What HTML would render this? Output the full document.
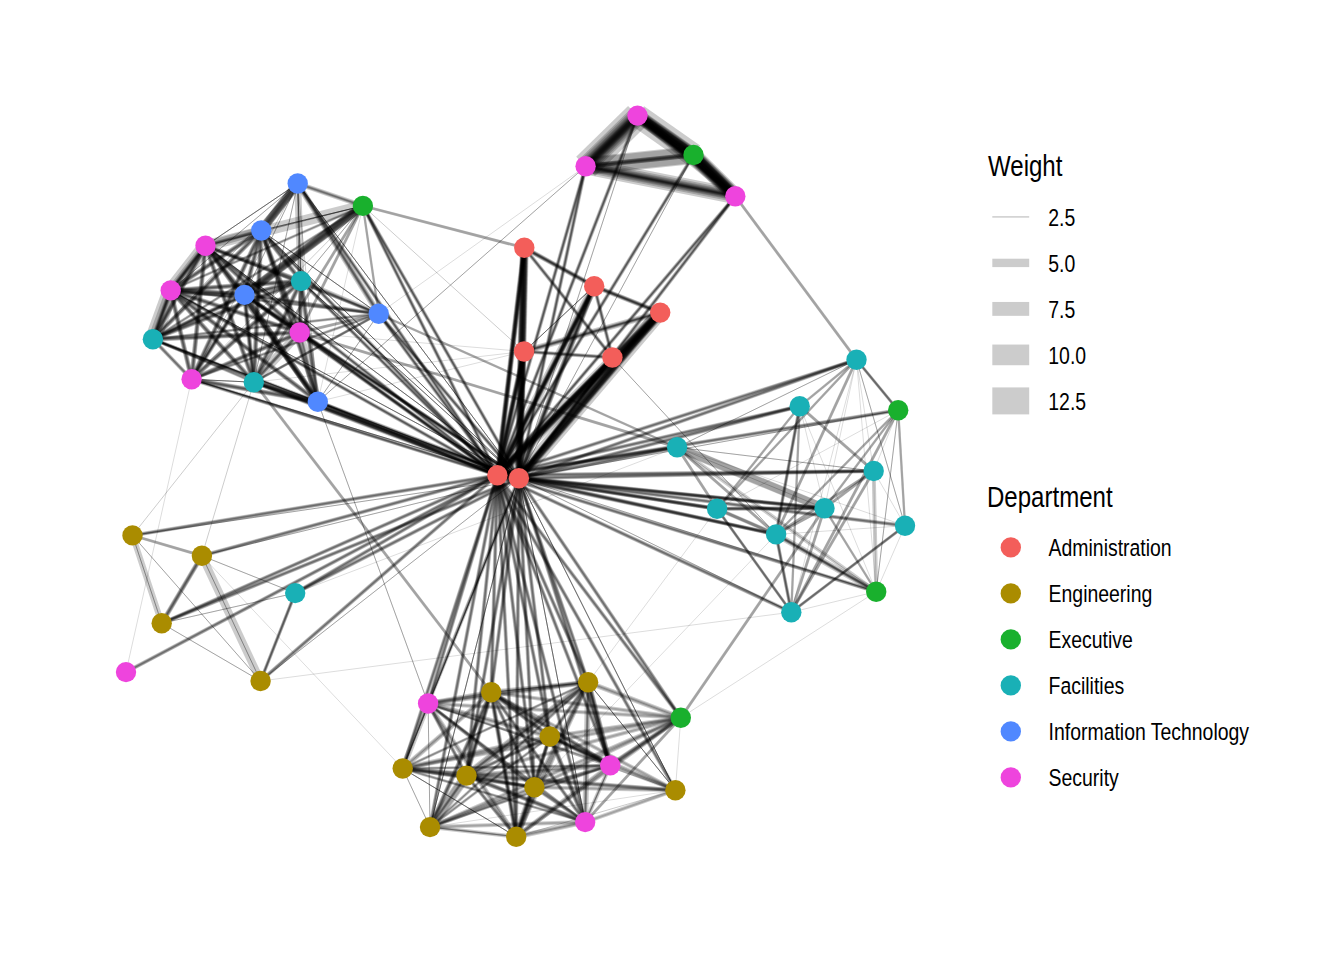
<!DOCTYPE html>
<html><head><meta charset="utf-8"><title>Network</title>
<style>
html,body{margin:0;padding:0;background:#fff;}
body{width:1344px;height:960px;overflow:hidden;font-family:"Liberation Sans",sans-serif;}
svg{display:block}
text{font-family:"Liberation Sans",sans-serif;fill:#000}
</style></head><body>
<svg width="1344" height="960" viewBox="0 0 1344 960">
<rect width="1344" height="960" fill="#fff"/>
<g stroke="#000" stroke-opacity="0.2" stroke-linecap="butt" fill="none">
<line x1="297.7" y1="183.5" x2="362.9" y2="205.9" stroke-width="1"/>
<line x1="297.7" y1="183.5" x2="362.9" y2="205.9" stroke-width="2"/>
<line x1="297.7" y1="183.5" x2="362.9" y2="205.9" stroke-width="3"/>
<line x1="297.7" y1="183.5" x2="362.9" y2="205.9" stroke-width="5"/>
<line x1="297.7" y1="183.5" x2="261.3" y2="230.5" stroke-width="2"/>
<line x1="297.7" y1="183.5" x2="261.3" y2="230.5" stroke-width="4"/>
<line x1="297.7" y1="183.5" x2="261.3" y2="230.5" stroke-width="6"/>
<line x1="297.7" y1="183.5" x2="261.3" y2="230.5" stroke-width="7"/>
<line x1="297.7" y1="183.5" x2="261.3" y2="230.5" stroke-width="8"/>
<line x1="297.7" y1="183.5" x2="261.3" y2="230.5" stroke-width="8"/>
<line x1="297.7" y1="183.5" x2="261.3" y2="230.5" stroke-width="9"/>
<line x1="297.7" y1="183.5" x2="205.5" y2="245.8" stroke-width="1"/>
<line x1="297.7" y1="183.5" x2="205.5" y2="245.8" stroke-width="1"/>
<line x1="297.7" y1="183.5" x2="205.5" y2="245.8" stroke-width="1"/>
<line x1="297.7" y1="183.5" x2="205.5" y2="245.8" stroke-width="1"/>
<line x1="297.7" y1="183.5" x2="170.7" y2="290.4" stroke-width="1"/>
<line x1="297.7" y1="183.5" x2="170.7" y2="290.4" stroke-width="1"/>
<line x1="297.7" y1="183.5" x2="244.5" y2="294.9" stroke-width="1"/>
<line x1="297.7" y1="183.5" x2="244.5" y2="294.9" stroke-width="1"/>
<line x1="297.7" y1="183.5" x2="301" y2="281.1" stroke-width="7"/>
<line x1="297.7" y1="183.5" x2="301" y2="281.1" stroke-width="1"/>
<line x1="297.7" y1="183.5" x2="301" y2="281.1" stroke-width="1"/>
<line x1="297.7" y1="183.5" x2="301" y2="281.1" stroke-width="1"/>
<line x1="297.7" y1="183.5" x2="301" y2="281.1" stroke-width="1"/>
<line x1="297.7" y1="183.5" x2="378.7" y2="313.8" stroke-width="1"/>
<line x1="297.7" y1="183.5" x2="378.7" y2="313.8" stroke-width="2"/>
<line x1="297.7" y1="183.5" x2="378.7" y2="313.8" stroke-width="3"/>
<line x1="297.7" y1="183.5" x2="378.7" y2="313.8" stroke-width="4"/>
<line x1="297.7" y1="183.5" x2="378.7" y2="313.8" stroke-width="6"/>
<line x1="297.7" y1="183.5" x2="299.7" y2="332.5" stroke-width="1"/>
<line x1="297.7" y1="183.5" x2="299.7" y2="332.5" stroke-width="1"/>
<line x1="297.7" y1="183.5" x2="152.9" y2="339.2" stroke-width="1"/>
<line x1="297.7" y1="183.5" x2="191.6" y2="379.3" stroke-width="1"/>
<line x1="297.7" y1="183.5" x2="253.8" y2="382.2" stroke-width="1"/>
<line x1="297.7" y1="183.5" x2="253.8" y2="382.2" stroke-width="1"/>
<line x1="297.7" y1="183.5" x2="317.8" y2="401.7" stroke-width="1"/>
<line x1="362.9" y1="205.9" x2="261.3" y2="230.5" stroke-width="1"/>
<line x1="362.9" y1="205.9" x2="261.3" y2="230.5" stroke-width="1"/>
<line x1="362.9" y1="205.9" x2="261.3" y2="230.5" stroke-width="1"/>
<line x1="362.9" y1="205.9" x2="261.3" y2="230.5" stroke-width="1"/>
<line x1="362.9" y1="205.9" x2="205.5" y2="245.8" stroke-width="11"/>
<line x1="362.9" y1="205.9" x2="205.5" y2="245.8" stroke-width="1"/>
<line x1="362.9" y1="205.9" x2="205.5" y2="245.8" stroke-width="1"/>
<line x1="362.9" y1="205.9" x2="170.7" y2="290.4" stroke-width="1"/>
<line x1="362.9" y1="205.9" x2="170.7" y2="290.4" stroke-width="2"/>
<line x1="362.9" y1="205.9" x2="170.7" y2="290.4" stroke-width="3"/>
<line x1="362.9" y1="205.9" x2="244.5" y2="294.9" stroke-width="2"/>
<line x1="362.9" y1="205.9" x2="244.5" y2="294.9" stroke-width="4"/>
<line x1="362.9" y1="205.9" x2="244.5" y2="294.9" stroke-width="6"/>
<line x1="362.9" y1="205.9" x2="244.5" y2="294.9" stroke-width="7"/>
<line x1="362.9" y1="205.9" x2="244.5" y2="294.9" stroke-width="8"/>
<line x1="362.9" y1="205.9" x2="244.5" y2="294.9" stroke-width="8"/>
<line x1="362.9" y1="205.9" x2="244.5" y2="294.9" stroke-width="9"/>
<line x1="362.9" y1="205.9" x2="301" y2="281.1" stroke-width="1"/>
<line x1="362.9" y1="205.9" x2="301" y2="281.1" stroke-width="1"/>
<line x1="362.9" y1="205.9" x2="378.7" y2="313.8" stroke-width="2.5"/>
<line x1="362.9" y1="205.9" x2="378.7" y2="313.8" stroke-width="2"/>
<line x1="362.9" y1="205.9" x2="299.7" y2="332.5" stroke-width="3"/>
<line x1="362.9" y1="205.9" x2="299.7" y2="332.5" stroke-width="2.5"/>
<line x1="362.9" y1="205.9" x2="152.9" y2="339.2" stroke-width="1"/>
<line x1="362.9" y1="205.9" x2="152.9" y2="339.2" stroke-width="2"/>
<line x1="362.9" y1="205.9" x2="152.9" y2="339.2" stroke-width="3"/>
<line x1="362.9" y1="205.9" x2="191.6" y2="379.3" stroke-width="1"/>
<line x1="362.9" y1="205.9" x2="253.8" y2="382.2" stroke-width="3"/>
<line x1="362.9" y1="205.9" x2="253.8" y2="382.2" stroke-width="2.5"/>
<line x1="362.9" y1="205.9" x2="317.8" y2="401.7" stroke-width="0.7"/>
<line x1="261.3" y1="230.5" x2="205.5" y2="245.8" stroke-width="1"/>
<line x1="261.3" y1="230.5" x2="205.5" y2="245.8" stroke-width="2"/>
<line x1="261.3" y1="230.5" x2="205.5" y2="245.8" stroke-width="3"/>
<line x1="261.3" y1="230.5" x2="205.5" y2="245.8" stroke-width="4"/>
<line x1="261.3" y1="230.5" x2="205.5" y2="245.8" stroke-width="8"/>
<line x1="261.3" y1="230.5" x2="170.7" y2="290.4" stroke-width="1"/>
<line x1="261.3" y1="230.5" x2="170.7" y2="290.4" stroke-width="2"/>
<line x1="261.3" y1="230.5" x2="170.7" y2="290.4" stroke-width="3"/>
<line x1="261.3" y1="230.5" x2="170.7" y2="290.4" stroke-width="4"/>
<line x1="261.3" y1="230.5" x2="170.7" y2="290.4" stroke-width="5"/>
<line x1="261.3" y1="230.5" x2="244.5" y2="294.9" stroke-width="1"/>
<line x1="261.3" y1="230.5" x2="244.5" y2="294.9" stroke-width="2"/>
<line x1="261.3" y1="230.5" x2="244.5" y2="294.9" stroke-width="3"/>
<line x1="261.3" y1="230.5" x2="244.5" y2="294.9" stroke-width="4"/>
<line x1="261.3" y1="230.5" x2="244.5" y2="294.9" stroke-width="5"/>
<line x1="261.3" y1="230.5" x2="301" y2="281.1" stroke-width="1"/>
<line x1="261.3" y1="230.5" x2="301" y2="281.1" stroke-width="2"/>
<line x1="261.3" y1="230.5" x2="301" y2="281.1" stroke-width="3"/>
<line x1="261.3" y1="230.5" x2="301" y2="281.1" stroke-width="4"/>
<line x1="261.3" y1="230.5" x2="301" y2="281.1" stroke-width="5"/>
<line x1="261.3" y1="230.5" x2="378.7" y2="313.8" stroke-width="1"/>
<line x1="261.3" y1="230.5" x2="378.7" y2="313.8" stroke-width="1"/>
<line x1="261.3" y1="230.5" x2="378.7" y2="313.8" stroke-width="1"/>
<line x1="261.3" y1="230.5" x2="378.7" y2="313.8" stroke-width="1"/>
<line x1="261.3" y1="230.5" x2="299.7" y2="332.5" stroke-width="1"/>
<line x1="261.3" y1="230.5" x2="299.7" y2="332.5" stroke-width="2"/>
<line x1="261.3" y1="230.5" x2="299.7" y2="332.5" stroke-width="3"/>
<line x1="261.3" y1="230.5" x2="299.7" y2="332.5" stroke-width="4"/>
<line x1="261.3" y1="230.5" x2="299.7" y2="332.5" stroke-width="5"/>
<line x1="261.3" y1="230.5" x2="152.9" y2="339.2" stroke-width="1"/>
<line x1="261.3" y1="230.5" x2="152.9" y2="339.2" stroke-width="2"/>
<line x1="261.3" y1="230.5" x2="152.9" y2="339.2" stroke-width="3"/>
<line x1="261.3" y1="230.5" x2="152.9" y2="339.2" stroke-width="4"/>
<line x1="261.3" y1="230.5" x2="152.9" y2="339.2" stroke-width="5"/>
<line x1="261.3" y1="230.5" x2="191.6" y2="379.3" stroke-width="1"/>
<line x1="261.3" y1="230.5" x2="191.6" y2="379.3" stroke-width="2"/>
<line x1="261.3" y1="230.5" x2="191.6" y2="379.3" stroke-width="3"/>
<line x1="261.3" y1="230.5" x2="191.6" y2="379.3" stroke-width="4"/>
<line x1="261.3" y1="230.5" x2="191.6" y2="379.3" stroke-width="5"/>
<line x1="261.3" y1="230.5" x2="253.8" y2="382.2" stroke-width="1"/>
<line x1="261.3" y1="230.5" x2="253.8" y2="382.2" stroke-width="2"/>
<line x1="261.3" y1="230.5" x2="253.8" y2="382.2" stroke-width="3"/>
<line x1="261.3" y1="230.5" x2="253.8" y2="382.2" stroke-width="4"/>
<line x1="261.3" y1="230.5" x2="253.8" y2="382.2" stroke-width="5"/>
<line x1="261.3" y1="230.5" x2="317.8" y2="401.7" stroke-width="1"/>
<line x1="261.3" y1="230.5" x2="317.8" y2="401.7" stroke-width="2"/>
<line x1="261.3" y1="230.5" x2="317.8" y2="401.7" stroke-width="3"/>
<line x1="261.3" y1="230.5" x2="317.8" y2="401.7" stroke-width="4"/>
<line x1="261.3" y1="230.5" x2="317.8" y2="401.7" stroke-width="5"/>
<line x1="205.5" y1="245.8" x2="170.7" y2="290.4" stroke-width="1"/>
<line x1="205.5" y1="245.8" x2="170.7" y2="290.4" stroke-width="1.5"/>
<line x1="205.5" y1="245.8" x2="170.7" y2="290.4" stroke-width="2"/>
<line x1="205.5" y1="245.8" x2="170.7" y2="290.4" stroke-width="2.5"/>
<line x1="205.5" y1="245.8" x2="170.7" y2="290.4" stroke-width="3"/>
<line x1="205.5" y1="245.8" x2="170.7" y2="290.4" stroke-width="4"/>
<line x1="205.5" y1="245.8" x2="170.7" y2="290.4" stroke-width="5"/>
<line x1="205.5" y1="245.8" x2="170.7" y2="290.4" stroke-width="14"/>
<line x1="205.5" y1="245.8" x2="170.7" y2="290.4" stroke-width="8"/>
<line x1="205.5" y1="245.8" x2="244.5" y2="294.9" stroke-width="1"/>
<line x1="205.5" y1="245.8" x2="244.5" y2="294.9" stroke-width="2"/>
<line x1="205.5" y1="245.8" x2="244.5" y2="294.9" stroke-width="3"/>
<line x1="205.5" y1="245.8" x2="244.5" y2="294.9" stroke-width="4"/>
<line x1="205.5" y1="245.8" x2="244.5" y2="294.9" stroke-width="5"/>
<line x1="205.5" y1="245.8" x2="301" y2="281.1" stroke-width="1"/>
<line x1="205.5" y1="245.8" x2="301" y2="281.1" stroke-width="2"/>
<line x1="205.5" y1="245.8" x2="301" y2="281.1" stroke-width="3"/>
<line x1="205.5" y1="245.8" x2="301" y2="281.1" stroke-width="4"/>
<line x1="205.5" y1="245.8" x2="301" y2="281.1" stroke-width="5"/>
<line x1="205.5" y1="245.8" x2="378.7" y2="313.8" stroke-width="1"/>
<line x1="205.5" y1="245.8" x2="378.7" y2="313.8" stroke-width="2"/>
<line x1="205.5" y1="245.8" x2="378.7" y2="313.8" stroke-width="3"/>
<line x1="205.5" y1="245.8" x2="299.7" y2="332.5" stroke-width="1"/>
<line x1="205.5" y1="245.8" x2="299.7" y2="332.5" stroke-width="2"/>
<line x1="205.5" y1="245.8" x2="299.7" y2="332.5" stroke-width="3"/>
<line x1="205.5" y1="245.8" x2="299.7" y2="332.5" stroke-width="4"/>
<line x1="205.5" y1="245.8" x2="299.7" y2="332.5" stroke-width="5"/>
<line x1="205.5" y1="245.8" x2="152.9" y2="339.2" stroke-width="1"/>
<line x1="205.5" y1="245.8" x2="152.9" y2="339.2" stroke-width="2"/>
<line x1="205.5" y1="245.8" x2="152.9" y2="339.2" stroke-width="3"/>
<line x1="205.5" y1="245.8" x2="152.9" y2="339.2" stroke-width="4"/>
<line x1="205.5" y1="245.8" x2="152.9" y2="339.2" stroke-width="5"/>
<line x1="205.5" y1="245.8" x2="191.6" y2="379.3" stroke-width="1"/>
<line x1="205.5" y1="245.8" x2="191.6" y2="379.3" stroke-width="2"/>
<line x1="205.5" y1="245.8" x2="191.6" y2="379.3" stroke-width="3"/>
<line x1="205.5" y1="245.8" x2="191.6" y2="379.3" stroke-width="4"/>
<line x1="205.5" y1="245.8" x2="191.6" y2="379.3" stroke-width="5"/>
<line x1="205.5" y1="245.8" x2="253.8" y2="382.2" stroke-width="1"/>
<line x1="205.5" y1="245.8" x2="253.8" y2="382.2" stroke-width="2"/>
<line x1="205.5" y1="245.8" x2="253.8" y2="382.2" stroke-width="3"/>
<line x1="205.5" y1="245.8" x2="253.8" y2="382.2" stroke-width="4"/>
<line x1="205.5" y1="245.8" x2="253.8" y2="382.2" stroke-width="5"/>
<line x1="205.5" y1="245.8" x2="317.8" y2="401.7" stroke-width="1"/>
<line x1="205.5" y1="245.8" x2="317.8" y2="401.7" stroke-width="2"/>
<line x1="205.5" y1="245.8" x2="317.8" y2="401.7" stroke-width="3"/>
<line x1="205.5" y1="245.8" x2="317.8" y2="401.7" stroke-width="4"/>
<line x1="205.5" y1="245.8" x2="317.8" y2="401.7" stroke-width="5"/>
<line x1="170.7" y1="290.4" x2="244.5" y2="294.9" stroke-width="1"/>
<line x1="170.7" y1="290.4" x2="244.5" y2="294.9" stroke-width="2"/>
<line x1="170.7" y1="290.4" x2="244.5" y2="294.9" stroke-width="3"/>
<line x1="170.7" y1="290.4" x2="244.5" y2="294.9" stroke-width="4"/>
<line x1="170.7" y1="290.4" x2="244.5" y2="294.9" stroke-width="5"/>
<line x1="170.7" y1="290.4" x2="244.5" y2="294.9" stroke-width="6"/>
<line x1="170.7" y1="290.4" x2="244.5" y2="294.9" stroke-width="6"/>
<line x1="170.7" y1="290.4" x2="301" y2="281.1" stroke-width="1"/>
<line x1="170.7" y1="290.4" x2="301" y2="281.1" stroke-width="2"/>
<line x1="170.7" y1="290.4" x2="301" y2="281.1" stroke-width="3"/>
<line x1="170.7" y1="290.4" x2="301" y2="281.1" stroke-width="4"/>
<line x1="170.7" y1="290.4" x2="301" y2="281.1" stroke-width="5"/>
<line x1="170.7" y1="290.4" x2="378.7" y2="313.8" stroke-width="1"/>
<line x1="170.7" y1="290.4" x2="378.7" y2="313.8" stroke-width="2"/>
<line x1="170.7" y1="290.4" x2="378.7" y2="313.8" stroke-width="3"/>
<line x1="170.7" y1="290.4" x2="299.7" y2="332.5" stroke-width="1"/>
<line x1="170.7" y1="290.4" x2="299.7" y2="332.5" stroke-width="2"/>
<line x1="170.7" y1="290.4" x2="299.7" y2="332.5" stroke-width="3"/>
<line x1="170.7" y1="290.4" x2="299.7" y2="332.5" stroke-width="4"/>
<line x1="170.7" y1="290.4" x2="299.7" y2="332.5" stroke-width="5"/>
<line x1="170.7" y1="290.4" x2="152.9" y2="339.2" stroke-width="1"/>
<line x1="170.7" y1="290.4" x2="152.9" y2="339.2" stroke-width="1.5"/>
<line x1="170.7" y1="290.4" x2="152.9" y2="339.2" stroke-width="2"/>
<line x1="170.7" y1="290.4" x2="152.9" y2="339.2" stroke-width="2.5"/>
<line x1="170.7" y1="290.4" x2="152.9" y2="339.2" stroke-width="3"/>
<line x1="170.7" y1="290.4" x2="152.9" y2="339.2" stroke-width="4"/>
<line x1="170.7" y1="290.4" x2="152.9" y2="339.2" stroke-width="5"/>
<line x1="170.7" y1="290.4" x2="152.9" y2="339.2" stroke-width="16"/>
<line x1="170.7" y1="290.4" x2="152.9" y2="339.2" stroke-width="10"/>
<line x1="170.7" y1="290.4" x2="191.6" y2="379.3" stroke-width="1"/>
<line x1="170.7" y1="290.4" x2="191.6" y2="379.3" stroke-width="2"/>
<line x1="170.7" y1="290.4" x2="191.6" y2="379.3" stroke-width="3"/>
<line x1="170.7" y1="290.4" x2="191.6" y2="379.3" stroke-width="4"/>
<line x1="170.7" y1="290.4" x2="191.6" y2="379.3" stroke-width="5"/>
<line x1="170.7" y1="290.4" x2="253.8" y2="382.2" stroke-width="1"/>
<line x1="170.7" y1="290.4" x2="253.8" y2="382.2" stroke-width="2"/>
<line x1="170.7" y1="290.4" x2="253.8" y2="382.2" stroke-width="3"/>
<line x1="170.7" y1="290.4" x2="253.8" y2="382.2" stroke-width="4"/>
<line x1="170.7" y1="290.4" x2="253.8" y2="382.2" stroke-width="5"/>
<line x1="170.7" y1="290.4" x2="317.8" y2="401.7" stroke-width="1"/>
<line x1="170.7" y1="290.4" x2="317.8" y2="401.7" stroke-width="2"/>
<line x1="170.7" y1="290.4" x2="317.8" y2="401.7" stroke-width="3"/>
<line x1="170.7" y1="290.4" x2="317.8" y2="401.7" stroke-width="4"/>
<line x1="170.7" y1="290.4" x2="317.8" y2="401.7" stroke-width="5"/>
<line x1="244.5" y1="294.9" x2="301" y2="281.1" stroke-width="1"/>
<line x1="244.5" y1="294.9" x2="301" y2="281.1" stroke-width="2"/>
<line x1="244.5" y1="294.9" x2="301" y2="281.1" stroke-width="3"/>
<line x1="244.5" y1="294.9" x2="301" y2="281.1" stroke-width="4"/>
<line x1="244.5" y1="294.9" x2="301" y2="281.1" stroke-width="5"/>
<line x1="244.5" y1="294.9" x2="378.7" y2="313.8" stroke-width="1"/>
<line x1="244.5" y1="294.9" x2="378.7" y2="313.8" stroke-width="2"/>
<line x1="244.5" y1="294.9" x2="378.7" y2="313.8" stroke-width="3"/>
<line x1="244.5" y1="294.9" x2="378.7" y2="313.8" stroke-width="4"/>
<line x1="244.5" y1="294.9" x2="299.7" y2="332.5" stroke-width="1"/>
<line x1="244.5" y1="294.9" x2="299.7" y2="332.5" stroke-width="2"/>
<line x1="244.5" y1="294.9" x2="299.7" y2="332.5" stroke-width="3"/>
<line x1="244.5" y1="294.9" x2="299.7" y2="332.5" stroke-width="4"/>
<line x1="244.5" y1="294.9" x2="299.7" y2="332.5" stroke-width="5"/>
<line x1="244.5" y1="294.9" x2="152.9" y2="339.2" stroke-width="1"/>
<line x1="244.5" y1="294.9" x2="152.9" y2="339.2" stroke-width="1.5"/>
<line x1="244.5" y1="294.9" x2="152.9" y2="339.2" stroke-width="2"/>
<line x1="244.5" y1="294.9" x2="152.9" y2="339.2" stroke-width="2.5"/>
<line x1="244.5" y1="294.9" x2="152.9" y2="339.2" stroke-width="3"/>
<line x1="244.5" y1="294.9" x2="152.9" y2="339.2" stroke-width="4"/>
<line x1="244.5" y1="294.9" x2="152.9" y2="339.2" stroke-width="5"/>
<line x1="244.5" y1="294.9" x2="191.6" y2="379.3" stroke-width="1"/>
<line x1="244.5" y1="294.9" x2="191.6" y2="379.3" stroke-width="1.5"/>
<line x1="244.5" y1="294.9" x2="191.6" y2="379.3" stroke-width="2"/>
<line x1="244.5" y1="294.9" x2="191.6" y2="379.3" stroke-width="2.5"/>
<line x1="244.5" y1="294.9" x2="191.6" y2="379.3" stroke-width="3"/>
<line x1="244.5" y1="294.9" x2="191.6" y2="379.3" stroke-width="4"/>
<line x1="244.5" y1="294.9" x2="191.6" y2="379.3" stroke-width="5"/>
<line x1="244.5" y1="294.9" x2="253.8" y2="382.2" stroke-width="1"/>
<line x1="244.5" y1="294.9" x2="253.8" y2="382.2" stroke-width="1.5"/>
<line x1="244.5" y1="294.9" x2="253.8" y2="382.2" stroke-width="2"/>
<line x1="244.5" y1="294.9" x2="253.8" y2="382.2" stroke-width="2.5"/>
<line x1="244.5" y1="294.9" x2="253.8" y2="382.2" stroke-width="3"/>
<line x1="244.5" y1="294.9" x2="253.8" y2="382.2" stroke-width="4"/>
<line x1="244.5" y1="294.9" x2="253.8" y2="382.2" stroke-width="5"/>
<line x1="244.5" y1="294.9" x2="317.8" y2="401.7" stroke-width="1"/>
<line x1="244.5" y1="294.9" x2="317.8" y2="401.7" stroke-width="2"/>
<line x1="244.5" y1="294.9" x2="317.8" y2="401.7" stroke-width="3"/>
<line x1="244.5" y1="294.9" x2="317.8" y2="401.7" stroke-width="4"/>
<line x1="244.5" y1="294.9" x2="317.8" y2="401.7" stroke-width="5"/>
<line x1="244.5" y1="294.9" x2="317.8" y2="401.7" stroke-width="6"/>
<line x1="244.5" y1="294.9" x2="317.8" y2="401.7" stroke-width="6"/>
<line x1="301" y1="281.1" x2="378.7" y2="313.8" stroke-width="1"/>
<line x1="301" y1="281.1" x2="378.7" y2="313.8" stroke-width="2"/>
<line x1="301" y1="281.1" x2="378.7" y2="313.8" stroke-width="3"/>
<line x1="301" y1="281.1" x2="378.7" y2="313.8" stroke-width="5"/>
<line x1="301" y1="281.1" x2="299.7" y2="332.5" stroke-width="1"/>
<line x1="301" y1="281.1" x2="299.7" y2="332.5" stroke-width="2"/>
<line x1="301" y1="281.1" x2="299.7" y2="332.5" stroke-width="3"/>
<line x1="301" y1="281.1" x2="299.7" y2="332.5" stroke-width="4"/>
<line x1="301" y1="281.1" x2="299.7" y2="332.5" stroke-width="5"/>
<line x1="301" y1="281.1" x2="152.9" y2="339.2" stroke-width="1"/>
<line x1="301" y1="281.1" x2="152.9" y2="339.2" stroke-width="2"/>
<line x1="301" y1="281.1" x2="152.9" y2="339.2" stroke-width="3"/>
<line x1="301" y1="281.1" x2="152.9" y2="339.2" stroke-width="4"/>
<line x1="301" y1="281.1" x2="152.9" y2="339.2" stroke-width="5"/>
<line x1="301" y1="281.1" x2="191.6" y2="379.3" stroke-width="1"/>
<line x1="301" y1="281.1" x2="191.6" y2="379.3" stroke-width="2"/>
<line x1="301" y1="281.1" x2="191.6" y2="379.3" stroke-width="3"/>
<line x1="301" y1="281.1" x2="191.6" y2="379.3" stroke-width="4"/>
<line x1="301" y1="281.1" x2="191.6" y2="379.3" stroke-width="5"/>
<line x1="301" y1="281.1" x2="253.8" y2="382.2" stroke-width="1"/>
<line x1="301" y1="281.1" x2="253.8" y2="382.2" stroke-width="2"/>
<line x1="301" y1="281.1" x2="253.8" y2="382.2" stroke-width="3"/>
<line x1="301" y1="281.1" x2="253.8" y2="382.2" stroke-width="4"/>
<line x1="301" y1="281.1" x2="253.8" y2="382.2" stroke-width="5"/>
<line x1="301" y1="281.1" x2="317.8" y2="401.7" stroke-width="1"/>
<line x1="301" y1="281.1" x2="317.8" y2="401.7" stroke-width="2"/>
<line x1="301" y1="281.1" x2="317.8" y2="401.7" stroke-width="3"/>
<line x1="301" y1="281.1" x2="317.8" y2="401.7" stroke-width="4"/>
<line x1="301" y1="281.1" x2="317.8" y2="401.7" stroke-width="5"/>
<line x1="378.7" y1="313.8" x2="299.7" y2="332.5" stroke-width="3"/>
<line x1="378.7" y1="313.8" x2="299.7" y2="332.5" stroke-width="2.5"/>
<line x1="378.7" y1="313.8" x2="152.9" y2="339.2" stroke-width="1"/>
<line x1="378.7" y1="313.8" x2="152.9" y2="339.2" stroke-width="2"/>
<line x1="378.7" y1="313.8" x2="152.9" y2="339.2" stroke-width="3"/>
<line x1="378.7" y1="313.8" x2="191.6" y2="379.3" stroke-width="1"/>
<line x1="378.7" y1="313.8" x2="191.6" y2="379.3" stroke-width="2"/>
<line x1="378.7" y1="313.8" x2="191.6" y2="379.3" stroke-width="3"/>
<line x1="378.7" y1="313.8" x2="253.8" y2="382.2" stroke-width="3"/>
<line x1="378.7" y1="313.8" x2="253.8" y2="382.2" stroke-width="2.5"/>
<line x1="378.7" y1="313.8" x2="253.8" y2="382.2" stroke-width="2"/>
<line x1="378.7" y1="313.8" x2="253.8" y2="382.2" stroke-width="1.5"/>
<line x1="378.7" y1="313.8" x2="317.8" y2="401.7" stroke-width="1"/>
<line x1="378.7" y1="313.8" x2="317.8" y2="401.7" stroke-width="1"/>
<line x1="299.7" y1="332.5" x2="152.9" y2="339.2" stroke-width="1"/>
<line x1="299.7" y1="332.5" x2="152.9" y2="339.2" stroke-width="2"/>
<line x1="299.7" y1="332.5" x2="152.9" y2="339.2" stroke-width="3"/>
<line x1="299.7" y1="332.5" x2="152.9" y2="339.2" stroke-width="4"/>
<line x1="299.7" y1="332.5" x2="152.9" y2="339.2" stroke-width="5"/>
<line x1="299.7" y1="332.5" x2="191.6" y2="379.3" stroke-width="1"/>
<line x1="299.7" y1="332.5" x2="191.6" y2="379.3" stroke-width="2"/>
<line x1="299.7" y1="332.5" x2="191.6" y2="379.3" stroke-width="3"/>
<line x1="299.7" y1="332.5" x2="191.6" y2="379.3" stroke-width="4"/>
<line x1="299.7" y1="332.5" x2="191.6" y2="379.3" stroke-width="5"/>
<line x1="299.7" y1="332.5" x2="253.8" y2="382.2" stroke-width="1"/>
<line x1="299.7" y1="332.5" x2="253.8" y2="382.2" stroke-width="2"/>
<line x1="299.7" y1="332.5" x2="253.8" y2="382.2" stroke-width="3"/>
<line x1="299.7" y1="332.5" x2="253.8" y2="382.2" stroke-width="4"/>
<line x1="299.7" y1="332.5" x2="253.8" y2="382.2" stroke-width="9"/>
<line x1="299.7" y1="332.5" x2="317.8" y2="401.7" stroke-width="1"/>
<line x1="299.7" y1="332.5" x2="317.8" y2="401.7" stroke-width="2"/>
<line x1="299.7" y1="332.5" x2="317.8" y2="401.7" stroke-width="3"/>
<line x1="299.7" y1="332.5" x2="317.8" y2="401.7" stroke-width="8"/>
<line x1="152.9" y1="339.2" x2="191.6" y2="379.3" stroke-width="1"/>
<line x1="152.9" y1="339.2" x2="191.6" y2="379.3" stroke-width="2"/>
<line x1="152.9" y1="339.2" x2="191.6" y2="379.3" stroke-width="3"/>
<line x1="152.9" y1="339.2" x2="191.6" y2="379.3" stroke-width="4"/>
<line x1="152.9" y1="339.2" x2="253.8" y2="382.2" stroke-width="1"/>
<line x1="152.9" y1="339.2" x2="253.8" y2="382.2" stroke-width="2"/>
<line x1="152.9" y1="339.2" x2="253.8" y2="382.2" stroke-width="3"/>
<line x1="152.9" y1="339.2" x2="317.8" y2="401.7" stroke-width="1"/>
<line x1="152.9" y1="339.2" x2="317.8" y2="401.7" stroke-width="2"/>
<line x1="152.9" y1="339.2" x2="317.8" y2="401.7" stroke-width="3"/>
<line x1="191.6" y1="379.3" x2="253.8" y2="382.2" stroke-width="1"/>
<line x1="191.6" y1="379.3" x2="253.8" y2="382.2" stroke-width="1"/>
<line x1="191.6" y1="379.3" x2="253.8" y2="382.2" stroke-width="1"/>
<line x1="191.6" y1="379.3" x2="253.8" y2="382.2" stroke-width="1"/>
<line x1="191.6" y1="379.3" x2="317.8" y2="401.7" stroke-width="1"/>
<line x1="191.6" y1="379.3" x2="317.8" y2="401.7" stroke-width="2"/>
<line x1="191.6" y1="379.3" x2="317.8" y2="401.7" stroke-width="3"/>
<line x1="191.6" y1="379.3" x2="317.8" y2="401.7" stroke-width="4"/>
<line x1="191.6" y1="379.3" x2="317.8" y2="401.7" stroke-width="5"/>
<line x1="253.8" y1="382.2" x2="317.8" y2="401.7" stroke-width="1"/>
<line x1="253.8" y1="382.2" x2="317.8" y2="401.7" stroke-width="2"/>
<line x1="253.8" y1="382.2" x2="317.8" y2="401.7" stroke-width="3"/>
<line x1="253.8" y1="382.2" x2="317.8" y2="401.7" stroke-width="4"/>
<line x1="497.4" y1="475.2" x2="297.7" y2="183.5" stroke-width="1"/>
<line x1="497.4" y1="475.2" x2="297.7" y2="183.5" stroke-width="1.5"/>
<line x1="497.4" y1="475.2" x2="297.7" y2="183.5" stroke-width="2"/>
<line x1="497.4" y1="475.2" x2="297.7" y2="183.5" stroke-width="3"/>
<line x1="497.4" y1="475.2" x2="297.7" y2="183.5" stroke-width="4"/>
<line x1="518.9" y1="478.3" x2="297.7" y2="183.5" stroke-width="1"/>
<line x1="518.9" y1="478.3" x2="297.7" y2="183.5" stroke-width="1"/>
<line x1="518.9" y1="478.3" x2="297.7" y2="183.5" stroke-width="1"/>
<line x1="518.9" y1="478.3" x2="297.7" y2="183.5" stroke-width="1"/>
<line x1="497.4" y1="475.2" x2="362.9" y2="205.9" stroke-width="1"/>
<line x1="497.4" y1="475.2" x2="362.9" y2="205.9" stroke-width="1.5"/>
<line x1="497.4" y1="475.2" x2="362.9" y2="205.9" stroke-width="2"/>
<line x1="497.4" y1="475.2" x2="362.9" y2="205.9" stroke-width="3"/>
<line x1="497.4" y1="475.2" x2="362.9" y2="205.9" stroke-width="4"/>
<line x1="518.9" y1="478.3" x2="362.9" y2="205.9" stroke-width="1"/>
<line x1="518.9" y1="478.3" x2="362.9" y2="205.9" stroke-width="1.5"/>
<line x1="518.9" y1="478.3" x2="362.9" y2="205.9" stroke-width="2"/>
<line x1="518.9" y1="478.3" x2="362.9" y2="205.9" stroke-width="3"/>
<line x1="518.9" y1="478.3" x2="362.9" y2="205.9" stroke-width="4"/>
<line x1="497.4" y1="475.2" x2="261.3" y2="230.5" stroke-width="1"/>
<line x1="497.4" y1="475.2" x2="261.3" y2="230.5" stroke-width="1.5"/>
<line x1="497.4" y1="475.2" x2="261.3" y2="230.5" stroke-width="2"/>
<line x1="497.4" y1="475.2" x2="261.3" y2="230.5" stroke-width="3"/>
<line x1="497.4" y1="475.2" x2="261.3" y2="230.5" stroke-width="4"/>
<line x1="518.9" y1="478.3" x2="261.3" y2="230.5" stroke-width="1"/>
<line x1="518.9" y1="478.3" x2="261.3" y2="230.5" stroke-width="1"/>
<line x1="518.9" y1="478.3" x2="261.3" y2="230.5" stroke-width="1"/>
<line x1="518.9" y1="478.3" x2="261.3" y2="230.5" stroke-width="1"/>
<line x1="497.4" y1="475.2" x2="205.5" y2="245.8" stroke-width="1"/>
<line x1="497.4" y1="475.2" x2="205.5" y2="245.8" stroke-width="1.5"/>
<line x1="497.4" y1="475.2" x2="205.5" y2="245.8" stroke-width="2"/>
<line x1="497.4" y1="475.2" x2="205.5" y2="245.8" stroke-width="3"/>
<line x1="497.4" y1="475.2" x2="205.5" y2="245.8" stroke-width="4"/>
<line x1="518.9" y1="478.3" x2="205.5" y2="245.8" stroke-width="1"/>
<line x1="518.9" y1="478.3" x2="205.5" y2="245.8" stroke-width="1"/>
<line x1="518.9" y1="478.3" x2="205.5" y2="245.8" stroke-width="1"/>
<line x1="518.9" y1="478.3" x2="205.5" y2="245.8" stroke-width="1"/>
<line x1="497.4" y1="475.2" x2="170.7" y2="290.4" stroke-width="1"/>
<line x1="497.4" y1="475.2" x2="170.7" y2="290.4" stroke-width="1.5"/>
<line x1="497.4" y1="475.2" x2="170.7" y2="290.4" stroke-width="2"/>
<line x1="497.4" y1="475.2" x2="170.7" y2="290.4" stroke-width="3"/>
<line x1="497.4" y1="475.2" x2="170.7" y2="290.4" stroke-width="4"/>
<line x1="518.9" y1="478.3" x2="170.7" y2="290.4" stroke-width="1"/>
<line x1="518.9" y1="478.3" x2="170.7" y2="290.4" stroke-width="1"/>
<line x1="518.9" y1="478.3" x2="170.7" y2="290.4" stroke-width="1"/>
<line x1="518.9" y1="478.3" x2="170.7" y2="290.4" stroke-width="1"/>
<line x1="497.4" y1="475.2" x2="244.5" y2="294.9" stroke-width="1"/>
<line x1="497.4" y1="475.2" x2="244.5" y2="294.9" stroke-width="1.5"/>
<line x1="497.4" y1="475.2" x2="244.5" y2="294.9" stroke-width="2"/>
<line x1="497.4" y1="475.2" x2="244.5" y2="294.9" stroke-width="3"/>
<line x1="497.4" y1="475.2" x2="244.5" y2="294.9" stroke-width="4"/>
<line x1="518.9" y1="478.3" x2="244.5" y2="294.9" stroke-width="1"/>
<line x1="518.9" y1="478.3" x2="244.5" y2="294.9" stroke-width="1.5"/>
<line x1="518.9" y1="478.3" x2="244.5" y2="294.9" stroke-width="2"/>
<line x1="518.9" y1="478.3" x2="244.5" y2="294.9" stroke-width="3"/>
<line x1="518.9" y1="478.3" x2="244.5" y2="294.9" stroke-width="4"/>
<line x1="497.4" y1="475.2" x2="301" y2="281.1" stroke-width="1"/>
<line x1="497.4" y1="475.2" x2="301" y2="281.1" stroke-width="1.5"/>
<line x1="497.4" y1="475.2" x2="301" y2="281.1" stroke-width="2"/>
<line x1="497.4" y1="475.2" x2="301" y2="281.1" stroke-width="3"/>
<line x1="497.4" y1="475.2" x2="301" y2="281.1" stroke-width="4"/>
<line x1="518.9" y1="478.3" x2="301" y2="281.1" stroke-width="1"/>
<line x1="518.9" y1="478.3" x2="301" y2="281.1" stroke-width="1"/>
<line x1="518.9" y1="478.3" x2="301" y2="281.1" stroke-width="1"/>
<line x1="518.9" y1="478.3" x2="301" y2="281.1" stroke-width="1"/>
<line x1="497.4" y1="475.2" x2="378.7" y2="313.8" stroke-width="1"/>
<line x1="497.4" y1="475.2" x2="378.7" y2="313.8" stroke-width="1.5"/>
<line x1="497.4" y1="475.2" x2="378.7" y2="313.8" stroke-width="2"/>
<line x1="497.4" y1="475.2" x2="378.7" y2="313.8" stroke-width="3"/>
<line x1="497.4" y1="475.2" x2="378.7" y2="313.8" stroke-width="4"/>
<line x1="518.9" y1="478.3" x2="378.7" y2="313.8" stroke-width="1"/>
<line x1="518.9" y1="478.3" x2="378.7" y2="313.8" stroke-width="1.5"/>
<line x1="518.9" y1="478.3" x2="378.7" y2="313.8" stroke-width="2"/>
<line x1="518.9" y1="478.3" x2="378.7" y2="313.8" stroke-width="3"/>
<line x1="518.9" y1="478.3" x2="378.7" y2="313.8" stroke-width="4"/>
<line x1="497.4" y1="475.2" x2="299.7" y2="332.5" stroke-width="1"/>
<line x1="497.4" y1="475.2" x2="299.7" y2="332.5" stroke-width="1.5"/>
<line x1="497.4" y1="475.2" x2="299.7" y2="332.5" stroke-width="2"/>
<line x1="497.4" y1="475.2" x2="299.7" y2="332.5" stroke-width="3"/>
<line x1="497.4" y1="475.2" x2="299.7" y2="332.5" stroke-width="4"/>
<line x1="518.9" y1="478.3" x2="299.7" y2="332.5" stroke-width="1"/>
<line x1="518.9" y1="478.3" x2="299.7" y2="332.5" stroke-width="1.5"/>
<line x1="518.9" y1="478.3" x2="299.7" y2="332.5" stroke-width="2"/>
<line x1="518.9" y1="478.3" x2="299.7" y2="332.5" stroke-width="3"/>
<line x1="518.9" y1="478.3" x2="299.7" y2="332.5" stroke-width="4"/>
<line x1="497.4" y1="475.2" x2="152.9" y2="339.2" stroke-width="1"/>
<line x1="497.4" y1="475.2" x2="152.9" y2="339.2" stroke-width="2"/>
<line x1="497.4" y1="475.2" x2="152.9" y2="339.2" stroke-width="3"/>
<line x1="497.4" y1="475.2" x2="152.9" y2="339.2" stroke-width="4"/>
<line x1="518.9" y1="478.3" x2="152.9" y2="339.2" stroke-width="1"/>
<line x1="518.9" y1="478.3" x2="152.9" y2="339.2" stroke-width="1"/>
<line x1="518.9" y1="478.3" x2="152.9" y2="339.2" stroke-width="1"/>
<line x1="518.9" y1="478.3" x2="152.9" y2="339.2" stroke-width="1"/>
<line x1="497.4" y1="475.2" x2="191.6" y2="379.3" stroke-width="1"/>
<line x1="497.4" y1="475.2" x2="191.6" y2="379.3" stroke-width="1.5"/>
<line x1="497.4" y1="475.2" x2="191.6" y2="379.3" stroke-width="2"/>
<line x1="497.4" y1="475.2" x2="191.6" y2="379.3" stroke-width="3"/>
<line x1="497.4" y1="475.2" x2="191.6" y2="379.3" stroke-width="4"/>
<line x1="518.9" y1="478.3" x2="191.6" y2="379.3" stroke-width="1"/>
<line x1="518.9" y1="478.3" x2="191.6" y2="379.3" stroke-width="1"/>
<line x1="518.9" y1="478.3" x2="191.6" y2="379.3" stroke-width="1"/>
<line x1="518.9" y1="478.3" x2="191.6" y2="379.3" stroke-width="1"/>
<line x1="497.4" y1="475.2" x2="253.8" y2="382.2" stroke-width="1"/>
<line x1="497.4" y1="475.2" x2="253.8" y2="382.2" stroke-width="1.5"/>
<line x1="497.4" y1="475.2" x2="253.8" y2="382.2" stroke-width="2"/>
<line x1="497.4" y1="475.2" x2="253.8" y2="382.2" stroke-width="3"/>
<line x1="497.4" y1="475.2" x2="253.8" y2="382.2" stroke-width="4"/>
<line x1="518.9" y1="478.3" x2="253.8" y2="382.2" stroke-width="1"/>
<line x1="518.9" y1="478.3" x2="253.8" y2="382.2" stroke-width="1.5"/>
<line x1="518.9" y1="478.3" x2="253.8" y2="382.2" stroke-width="2"/>
<line x1="518.9" y1="478.3" x2="253.8" y2="382.2" stroke-width="3"/>
<line x1="518.9" y1="478.3" x2="253.8" y2="382.2" stroke-width="4"/>
<line x1="497.4" y1="475.2" x2="317.8" y2="401.7" stroke-width="1"/>
<line x1="497.4" y1="475.2" x2="317.8" y2="401.7" stroke-width="1.5"/>
<line x1="497.4" y1="475.2" x2="317.8" y2="401.7" stroke-width="2"/>
<line x1="497.4" y1="475.2" x2="317.8" y2="401.7" stroke-width="3"/>
<line x1="497.4" y1="475.2" x2="317.8" y2="401.7" stroke-width="4"/>
<line x1="518.9" y1="478.3" x2="317.8" y2="401.7" stroke-width="1"/>
<line x1="518.9" y1="478.3" x2="317.8" y2="401.7" stroke-width="1.5"/>
<line x1="518.9" y1="478.3" x2="317.8" y2="401.7" stroke-width="2"/>
<line x1="518.9" y1="478.3" x2="317.8" y2="401.7" stroke-width="3"/>
<line x1="518.9" y1="478.3" x2="317.8" y2="401.7" stroke-width="4"/>
<line x1="299.7" y1="332.5" x2="677.1" y2="447.3" stroke-width="3"/>
<line x1="299.7" y1="332.5" x2="677.1" y2="447.3" stroke-width="2.5"/>
<line x1="378.7" y1="313.8" x2="677.1" y2="447.3" stroke-width="2.5"/>
<line x1="378.7" y1="313.8" x2="677.1" y2="447.3" stroke-width="2"/>
<line x1="317.8" y1="401.7" x2="585.6" y2="166.3" stroke-width="1"/>
<line x1="317.8" y1="401.7" x2="585.6" y2="166.3" stroke-width="1"/>
<line x1="637.5" y1="115.6" x2="585.6" y2="166.3" stroke-width="27"/>
<line x1="637.5" y1="115.6" x2="585.6" y2="166.3" stroke-width="19"/>
<line x1="637.5" y1="115.6" x2="585.6" y2="166.3" stroke-width="16"/>
<line x1="637.5" y1="115.6" x2="585.6" y2="166.3" stroke-width="13"/>
<line x1="637.5" y1="115.6" x2="585.6" y2="166.3" stroke-width="11"/>
<line x1="637.5" y1="115.6" x2="585.6" y2="166.3" stroke-width="9"/>
<line x1="637.5" y1="115.6" x2="585.6" y2="166.3" stroke-width="8"/>
<line x1="637.5" y1="115.6" x2="585.6" y2="166.3" stroke-width="7"/>
<line x1="637.5" y1="115.6" x2="585.6" y2="166.3" stroke-width="6"/>
<line x1="637.5" y1="115.6" x2="585.6" y2="166.3" stroke-width="5"/>
<line x1="637.5" y1="115.6" x2="585.6" y2="166.3" stroke-width="4"/>
<line x1="637.5" y1="115.6" x2="585.6" y2="166.3" stroke-width="3"/>
<line x1="637.5" y1="115.6" x2="585.6" y2="166.3" stroke-width="2"/>
<line x1="637.5" y1="115.6" x2="693.5" y2="155" stroke-width="23"/>
<line x1="637.5" y1="115.6" x2="693.5" y2="155" stroke-width="14"/>
<line x1="637.5" y1="115.6" x2="693.5" y2="155" stroke-width="13"/>
<line x1="637.5" y1="115.6" x2="693.5" y2="155" stroke-width="12"/>
<line x1="637.5" y1="115.6" x2="693.5" y2="155" stroke-width="11"/>
<line x1="637.5" y1="115.6" x2="693.5" y2="155" stroke-width="10"/>
<line x1="637.5" y1="115.6" x2="693.5" y2="155" stroke-width="9.5"/>
<line x1="637.5" y1="115.6" x2="693.5" y2="155" stroke-width="9"/>
<line x1="637.5" y1="115.6" x2="693.5" y2="155" stroke-width="9"/>
<line x1="637.5" y1="115.6" x2="693.5" y2="155" stroke-width="8"/>
<line x1="637.5" y1="115.6" x2="693.5" y2="155" stroke-width="8"/>
<line x1="637.5" y1="115.6" x2="693.5" y2="155" stroke-width="7"/>
<line x1="637.5" y1="115.6" x2="693.5" y2="155" stroke-width="6"/>
<line x1="637.5" y1="115.6" x2="693.5" y2="155" stroke-width="5"/>
<line x1="637.5" y1="115.6" x2="693.5" y2="155" stroke-width="4"/>
<line x1="637.5" y1="115.6" x2="693.5" y2="155" stroke-width="3"/>
<line x1="637.5" y1="115.6" x2="693.5" y2="155" stroke-width="2"/>
<line x1="693.5" y1="155" x2="735.3" y2="196.2" stroke-width="16"/>
<line x1="693.5" y1="155" x2="735.3" y2="196.2" stroke-width="14"/>
<line x1="693.5" y1="155" x2="735.3" y2="196.2" stroke-width="13"/>
<line x1="693.5" y1="155" x2="735.3" y2="196.2" stroke-width="12"/>
<line x1="693.5" y1="155" x2="735.3" y2="196.2" stroke-width="11"/>
<line x1="693.5" y1="155" x2="735.3" y2="196.2" stroke-width="10"/>
<line x1="693.5" y1="155" x2="735.3" y2="196.2" stroke-width="9.5"/>
<line x1="693.5" y1="155" x2="735.3" y2="196.2" stroke-width="9"/>
<line x1="693.5" y1="155" x2="735.3" y2="196.2" stroke-width="9"/>
<line x1="693.5" y1="155" x2="735.3" y2="196.2" stroke-width="8"/>
<line x1="693.5" y1="155" x2="735.3" y2="196.2" stroke-width="8"/>
<line x1="693.5" y1="155" x2="735.3" y2="196.2" stroke-width="7"/>
<line x1="693.5" y1="155" x2="735.3" y2="196.2" stroke-width="6"/>
<line x1="693.5" y1="155" x2="735.3" y2="196.2" stroke-width="5"/>
<line x1="693.5" y1="155" x2="735.3" y2="196.2" stroke-width="4"/>
<line x1="693.5" y1="155" x2="735.3" y2="196.2" stroke-width="3"/>
<line x1="693.5" y1="155" x2="735.3" y2="196.2" stroke-width="2"/>
<line x1="637.5" y1="115.6" x2="735.3" y2="196.2" stroke-width="1"/>
<line x1="637.5" y1="115.6" x2="735.3" y2="196.2" stroke-width="1.5"/>
<line x1="637.5" y1="115.6" x2="735.3" y2="196.2" stroke-width="2"/>
<line x1="637.5" y1="115.6" x2="735.3" y2="196.2" stroke-width="2.5"/>
<line x1="637.5" y1="115.6" x2="735.3" y2="196.2" stroke-width="3"/>
<line x1="637.5" y1="115.6" x2="735.3" y2="196.2" stroke-width="4"/>
<line x1="637.5" y1="115.6" x2="735.3" y2="196.2" stroke-width="5"/>
<line x1="637.5" y1="115.6" x2="735.3" y2="196.2" stroke-width="10"/>
<line x1="637.5" y1="115.6" x2="735.3" y2="196.2" stroke-width="8"/>
<line x1="585.6" y1="166.3" x2="693.5" y2="155" stroke-width="18"/>
<line x1="585.6" y1="166.3" x2="693.5" y2="155" stroke-width="16"/>
<line x1="585.6" y1="166.3" x2="693.5" y2="155" stroke-width="1"/>
<line x1="585.6" y1="166.3" x2="693.5" y2="155" stroke-width="2"/>
<line x1="585.6" y1="166.3" x2="693.5" y2="155" stroke-width="3"/>
<line x1="585.6" y1="166.3" x2="693.5" y2="155" stroke-width="4"/>
<line x1="585.6" y1="166.3" x2="693.5" y2="155" stroke-width="5"/>
<line x1="585.6" y1="166.3" x2="693.5" y2="155" stroke-width="5"/>
<line x1="585.6" y1="166.3" x2="735.3" y2="196.2" stroke-width="16"/>
<line x1="585.6" y1="166.3" x2="735.3" y2="196.2" stroke-width="12"/>
<line x1="585.6" y1="166.3" x2="735.3" y2="196.2" stroke-width="9"/>
<line x1="585.6" y1="166.3" x2="735.3" y2="196.2" stroke-width="7"/>
<line x1="585.6" y1="166.3" x2="735.3" y2="196.2" stroke-width="5"/>
<line x1="585.6" y1="166.3" x2="735.3" y2="196.2" stroke-width="4"/>
<line x1="585.6" y1="166.3" x2="735.3" y2="196.2" stroke-width="3"/>
<line x1="585.6" y1="166.3" x2="735.3" y2="196.2" stroke-width="2"/>
<line x1="585.6" y1="166.3" x2="735.3" y2="196.2" stroke-width="1.5"/>
<line x1="585.6" y1="166.3" x2="735.3" y2="196.2" stroke-width="1"/>
<line x1="637.5" y1="115.6" x2="497.4" y2="475.2" stroke-width="1"/>
<line x1="637.5" y1="115.6" x2="497.4" y2="475.2" stroke-width="1.5"/>
<line x1="637.5" y1="115.6" x2="497.4" y2="475.2" stroke-width="2"/>
<line x1="637.5" y1="115.6" x2="497.4" y2="475.2" stroke-width="3"/>
<line x1="637.5" y1="115.6" x2="497.4" y2="475.2" stroke-width="4"/>
<line x1="637.5" y1="115.6" x2="518.9" y2="478.3" stroke-width="1"/>
<line x1="637.5" y1="115.6" x2="518.9" y2="478.3" stroke-width="1"/>
<line x1="585.6" y1="166.3" x2="497.4" y2="475.2" stroke-width="1"/>
<line x1="585.6" y1="166.3" x2="497.4" y2="475.2" stroke-width="1.5"/>
<line x1="585.6" y1="166.3" x2="497.4" y2="475.2" stroke-width="2"/>
<line x1="585.6" y1="166.3" x2="497.4" y2="475.2" stroke-width="3"/>
<line x1="585.6" y1="166.3" x2="497.4" y2="475.2" stroke-width="4"/>
<line x1="585.6" y1="166.3" x2="518.9" y2="478.3" stroke-width="1"/>
<line x1="585.6" y1="166.3" x2="518.9" y2="478.3" stroke-width="1.5"/>
<line x1="585.6" y1="166.3" x2="518.9" y2="478.3" stroke-width="2"/>
<line x1="585.6" y1="166.3" x2="518.9" y2="478.3" stroke-width="3"/>
<line x1="585.6" y1="166.3" x2="518.9" y2="478.3" stroke-width="4"/>
<line x1="693.5" y1="155" x2="497.4" y2="475.2" stroke-width="1"/>
<line x1="693.5" y1="155" x2="497.4" y2="475.2" stroke-width="1.5"/>
<line x1="693.5" y1="155" x2="497.4" y2="475.2" stroke-width="2"/>
<line x1="693.5" y1="155" x2="497.4" y2="475.2" stroke-width="3"/>
<line x1="693.5" y1="155" x2="497.4" y2="475.2" stroke-width="4"/>
<line x1="693.5" y1="155" x2="518.9" y2="478.3" stroke-width="1"/>
<line x1="693.5" y1="155" x2="518.9" y2="478.3" stroke-width="1"/>
<line x1="735.3" y1="196.2" x2="497.4" y2="475.2" stroke-width="1"/>
<line x1="735.3" y1="196.2" x2="497.4" y2="475.2" stroke-width="1.5"/>
<line x1="735.3" y1="196.2" x2="497.4" y2="475.2" stroke-width="2"/>
<line x1="735.3" y1="196.2" x2="497.4" y2="475.2" stroke-width="3"/>
<line x1="735.3" y1="196.2" x2="497.4" y2="475.2" stroke-width="4"/>
<line x1="735.3" y1="196.2" x2="518.9" y2="478.3" stroke-width="1"/>
<line x1="735.3" y1="196.2" x2="518.9" y2="478.3" stroke-width="1.5"/>
<line x1="735.3" y1="196.2" x2="518.9" y2="478.3" stroke-width="2"/>
<line x1="735.3" y1="196.2" x2="518.9" y2="478.3" stroke-width="3"/>
<line x1="735.3" y1="196.2" x2="518.9" y2="478.3" stroke-width="4"/>
<line x1="585.6" y1="166.3" x2="378.7" y2="313.8" stroke-width="0.7"/>
<line x1="524.3" y1="247.8" x2="518.9" y2="478.3" stroke-width="1"/>
<line x1="524.3" y1="247.8" x2="518.9" y2="478.3" stroke-width="2"/>
<line x1="524.3" y1="247.8" x2="518.9" y2="478.3" stroke-width="3"/>
<line x1="524.3" y1="247.8" x2="518.9" y2="478.3" stroke-width="4"/>
<line x1="524.3" y1="247.8" x2="518.9" y2="478.3" stroke-width="4"/>
<line x1="524.3" y1="247.8" x2="518.9" y2="478.3" stroke-width="5"/>
<line x1="524.3" y1="247.8" x2="518.9" y2="478.3" stroke-width="5"/>
<line x1="524.3" y1="247.8" x2="518.9" y2="478.3" stroke-width="6"/>
<line x1="524.3" y1="247.8" x2="518.9" y2="478.3" stroke-width="6"/>
<line x1="524.3" y1="247.8" x2="518.9" y2="478.3" stroke-width="7"/>
<line x1="524.3" y1="247.8" x2="518.9" y2="478.3" stroke-width="7"/>
<line x1="524.3" y1="247.8" x2="518.9" y2="478.3" stroke-width="8"/>
<line x1="524.3" y1="247.8" x2="518.9" y2="478.3" stroke-width="9"/>
<line x1="524.3" y1="247.8" x2="497.4" y2="475.2" stroke-width="1"/>
<line x1="524.3" y1="247.8" x2="497.4" y2="475.2" stroke-width="1.5"/>
<line x1="524.3" y1="247.8" x2="497.4" y2="475.2" stroke-width="2"/>
<line x1="524.3" y1="247.8" x2="497.4" y2="475.2" stroke-width="2"/>
<line x1="524.3" y1="247.8" x2="497.4" y2="475.2" stroke-width="2.5"/>
<line x1="524.3" y1="247.8" x2="497.4" y2="475.2" stroke-width="3"/>
<line x1="524.3" y1="247.8" x2="497.4" y2="475.2" stroke-width="3"/>
<line x1="524.3" y1="247.8" x2="497.4" y2="475.2" stroke-width="3.5"/>
<line x1="524.3" y1="247.8" x2="497.4" y2="475.2" stroke-width="4"/>
<line x1="524.3" y1="247.8" x2="497.4" y2="475.2" stroke-width="4.5"/>
<line x1="524.3" y1="247.8" x2="497.4" y2="475.2" stroke-width="5"/>
<line x1="524.3" y1="247.8" x2="497.4" y2="475.2" stroke-width="6"/>
<line x1="524.3" y1="247.8" x2="594.2" y2="286.2" stroke-width="1"/>
<line x1="524.3" y1="247.8" x2="594.2" y2="286.2" stroke-width="1.5"/>
<line x1="524.3" y1="247.8" x2="594.2" y2="286.2" stroke-width="2"/>
<line x1="524.3" y1="247.8" x2="594.2" y2="286.2" stroke-width="2.5"/>
<line x1="524.3" y1="247.8" x2="594.2" y2="286.2" stroke-width="3"/>
<line x1="524.3" y1="247.8" x2="594.2" y2="286.2" stroke-width="4"/>
<line x1="524.3" y1="247.8" x2="594.2" y2="286.2" stroke-width="5"/>
<line x1="594.2" y1="286.2" x2="660.2" y2="312.6" stroke-width="1"/>
<line x1="594.2" y1="286.2" x2="660.2" y2="312.6" stroke-width="1.5"/>
<line x1="594.2" y1="286.2" x2="660.2" y2="312.6" stroke-width="2"/>
<line x1="594.2" y1="286.2" x2="660.2" y2="312.6" stroke-width="2.5"/>
<line x1="594.2" y1="286.2" x2="660.2" y2="312.6" stroke-width="3"/>
<line x1="594.2" y1="286.2" x2="660.2" y2="312.6" stroke-width="4"/>
<line x1="594.2" y1="286.2" x2="660.2" y2="312.6" stroke-width="5"/>
<line x1="524.3" y1="247.8" x2="612.4" y2="357.5" stroke-width="1"/>
<line x1="524.3" y1="247.8" x2="612.4" y2="357.5" stroke-width="1.5"/>
<line x1="524.3" y1="247.8" x2="612.4" y2="357.5" stroke-width="2"/>
<line x1="524.3" y1="247.8" x2="612.4" y2="357.5" stroke-width="3"/>
<line x1="524.3" y1="247.8" x2="612.4" y2="357.5" stroke-width="4"/>
<line x1="524.1" y1="351.5" x2="660.2" y2="312.6" stroke-width="1"/>
<line x1="524.1" y1="351.5" x2="660.2" y2="312.6" stroke-width="1.5"/>
<line x1="524.1" y1="351.5" x2="660.2" y2="312.6" stroke-width="2"/>
<line x1="524.1" y1="351.5" x2="660.2" y2="312.6" stroke-width="3"/>
<line x1="524.1" y1="351.5" x2="660.2" y2="312.6" stroke-width="4"/>
<line x1="524.1" y1="351.5" x2="660.2" y2="312.6" stroke-width="6"/>
<line x1="524.1" y1="351.5" x2="612.4" y2="357.5" stroke-width="1"/>
<line x1="524.1" y1="351.5" x2="612.4" y2="357.5" stroke-width="1.5"/>
<line x1="524.1" y1="351.5" x2="612.4" y2="357.5" stroke-width="2"/>
<line x1="524.1" y1="351.5" x2="612.4" y2="357.5" stroke-width="3"/>
<line x1="524.1" y1="351.5" x2="612.4" y2="357.5" stroke-width="4"/>
<line x1="524.1" y1="351.5" x2="594.2" y2="286.2" stroke-width="1"/>
<line x1="524.1" y1="351.5" x2="594.2" y2="286.2" stroke-width="1"/>
<line x1="524.1" y1="351.5" x2="594.2" y2="286.2" stroke-width="1"/>
<line x1="524.1" y1="351.5" x2="594.2" y2="286.2" stroke-width="1"/>
<line x1="594.2" y1="286.2" x2="612.4" y2="357.5" stroke-width="1"/>
<line x1="594.2" y1="286.2" x2="612.4" y2="357.5" stroke-width="1.5"/>
<line x1="594.2" y1="286.2" x2="612.4" y2="357.5" stroke-width="2"/>
<line x1="594.2" y1="286.2" x2="612.4" y2="357.5" stroke-width="3"/>
<line x1="594.2" y1="286.2" x2="612.4" y2="357.5" stroke-width="4"/>
<line x1="594.2" y1="286.2" x2="497.4" y2="475.2" stroke-width="1"/>
<line x1="594.2" y1="286.2" x2="497.4" y2="475.2" stroke-width="1.5"/>
<line x1="594.2" y1="286.2" x2="497.4" y2="475.2" stroke-width="2"/>
<line x1="594.2" y1="286.2" x2="497.4" y2="475.2" stroke-width="2"/>
<line x1="594.2" y1="286.2" x2="497.4" y2="475.2" stroke-width="2.5"/>
<line x1="594.2" y1="286.2" x2="497.4" y2="475.2" stroke-width="3"/>
<line x1="594.2" y1="286.2" x2="497.4" y2="475.2" stroke-width="3"/>
<line x1="594.2" y1="286.2" x2="497.4" y2="475.2" stroke-width="3.5"/>
<line x1="594.2" y1="286.2" x2="497.4" y2="475.2" stroke-width="4"/>
<line x1="594.2" y1="286.2" x2="497.4" y2="475.2" stroke-width="4.5"/>
<line x1="594.2" y1="286.2" x2="497.4" y2="475.2" stroke-width="5"/>
<line x1="594.2" y1="286.2" x2="497.4" y2="475.2" stroke-width="6"/>
<line x1="594.2" y1="286.2" x2="497.4" y2="475.2" stroke-width="9"/>
<line x1="594.2" y1="286.2" x2="518.9" y2="478.3" stroke-width="1"/>
<line x1="594.2" y1="286.2" x2="518.9" y2="478.3" stroke-width="1.5"/>
<line x1="594.2" y1="286.2" x2="518.9" y2="478.3" stroke-width="2"/>
<line x1="594.2" y1="286.2" x2="518.9" y2="478.3" stroke-width="2.5"/>
<line x1="594.2" y1="286.2" x2="518.9" y2="478.3" stroke-width="3"/>
<line x1="594.2" y1="286.2" x2="518.9" y2="478.3" stroke-width="4"/>
<line x1="594.2" y1="286.2" x2="518.9" y2="478.3" stroke-width="5"/>
<line x1="594.2" y1="286.2" x2="518.9" y2="478.3" stroke-width="6"/>
<line x1="660.2" y1="312.6" x2="497.4" y2="475.2" stroke-width="1"/>
<line x1="660.2" y1="312.6" x2="497.4" y2="475.2" stroke-width="2"/>
<line x1="660.2" y1="312.6" x2="497.4" y2="475.2" stroke-width="3"/>
<line x1="660.2" y1="312.6" x2="497.4" y2="475.2" stroke-width="4"/>
<line x1="660.2" y1="312.6" x2="497.4" y2="475.2" stroke-width="5"/>
<line x1="660.2" y1="312.6" x2="497.4" y2="475.2" stroke-width="5"/>
<line x1="660.2" y1="312.6" x2="497.4" y2="475.2" stroke-width="6"/>
<line x1="660.2" y1="312.6" x2="497.4" y2="475.2" stroke-width="6"/>
<line x1="660.2" y1="312.6" x2="497.4" y2="475.2" stroke-width="7"/>
<line x1="660.2" y1="312.6" x2="497.4" y2="475.2" stroke-width="7"/>
<line x1="660.2" y1="312.6" x2="497.4" y2="475.2" stroke-width="8"/>
<line x1="660.2" y1="312.6" x2="497.4" y2="475.2" stroke-width="9"/>
<line x1="660.2" y1="312.6" x2="497.4" y2="475.2" stroke-width="12"/>
<line x1="660.2" y1="312.6" x2="518.9" y2="478.3" stroke-width="1"/>
<line x1="660.2" y1="312.6" x2="518.9" y2="478.3" stroke-width="2"/>
<line x1="660.2" y1="312.6" x2="518.9" y2="478.3" stroke-width="3"/>
<line x1="660.2" y1="312.6" x2="518.9" y2="478.3" stroke-width="4"/>
<line x1="660.2" y1="312.6" x2="518.9" y2="478.3" stroke-width="5"/>
<line x1="660.2" y1="312.6" x2="518.9" y2="478.3" stroke-width="5"/>
<line x1="660.2" y1="312.6" x2="518.9" y2="478.3" stroke-width="6"/>
<line x1="660.2" y1="312.6" x2="518.9" y2="478.3" stroke-width="6"/>
<line x1="660.2" y1="312.6" x2="518.9" y2="478.3" stroke-width="7"/>
<line x1="660.2" y1="312.6" x2="518.9" y2="478.3" stroke-width="7"/>
<line x1="660.2" y1="312.6" x2="518.9" y2="478.3" stroke-width="8"/>
<line x1="660.2" y1="312.6" x2="518.9" y2="478.3" stroke-width="9"/>
<line x1="660.2" y1="312.6" x2="518.9" y2="478.3" stroke-width="14"/>
<line x1="612.4" y1="357.5" x2="497.4" y2="475.2" stroke-width="1"/>
<line x1="612.4" y1="357.5" x2="497.4" y2="475.2" stroke-width="1.5"/>
<line x1="612.4" y1="357.5" x2="497.4" y2="475.2" stroke-width="2"/>
<line x1="612.4" y1="357.5" x2="497.4" y2="475.2" stroke-width="2.5"/>
<line x1="612.4" y1="357.5" x2="497.4" y2="475.2" stroke-width="3"/>
<line x1="612.4" y1="357.5" x2="497.4" y2="475.2" stroke-width="4"/>
<line x1="612.4" y1="357.5" x2="497.4" y2="475.2" stroke-width="5"/>
<line x1="612.4" y1="357.5" x2="518.9" y2="478.3" stroke-width="1"/>
<line x1="612.4" y1="357.5" x2="518.9" y2="478.3" stroke-width="1.5"/>
<line x1="612.4" y1="357.5" x2="518.9" y2="478.3" stroke-width="2"/>
<line x1="612.4" y1="357.5" x2="518.9" y2="478.3" stroke-width="2.5"/>
<line x1="612.4" y1="357.5" x2="518.9" y2="478.3" stroke-width="3"/>
<line x1="612.4" y1="357.5" x2="518.9" y2="478.3" stroke-width="4"/>
<line x1="612.4" y1="357.5" x2="518.9" y2="478.3" stroke-width="5"/>
<line x1="524.1" y1="351.5" x2="497.4" y2="475.2" stroke-width="1"/>
<line x1="524.1" y1="351.5" x2="497.4" y2="475.2" stroke-width="1.5"/>
<line x1="524.1" y1="351.5" x2="497.4" y2="475.2" stroke-width="2"/>
<line x1="524.1" y1="351.5" x2="497.4" y2="475.2" stroke-width="2"/>
<line x1="524.1" y1="351.5" x2="497.4" y2="475.2" stroke-width="2.5"/>
<line x1="524.1" y1="351.5" x2="497.4" y2="475.2" stroke-width="3"/>
<line x1="524.1" y1="351.5" x2="497.4" y2="475.2" stroke-width="3"/>
<line x1="524.1" y1="351.5" x2="497.4" y2="475.2" stroke-width="3.5"/>
<line x1="524.1" y1="351.5" x2="497.4" y2="475.2" stroke-width="4"/>
<line x1="524.1" y1="351.5" x2="497.4" y2="475.2" stroke-width="4.5"/>
<line x1="524.1" y1="351.5" x2="497.4" y2="475.2" stroke-width="5"/>
<line x1="524.1" y1="351.5" x2="497.4" y2="475.2" stroke-width="6"/>
<line x1="524.1" y1="351.5" x2="518.9" y2="478.3" stroke-width="1"/>
<line x1="524.1" y1="351.5" x2="518.9" y2="478.3" stroke-width="1.5"/>
<line x1="524.1" y1="351.5" x2="518.9" y2="478.3" stroke-width="2"/>
<line x1="524.1" y1="351.5" x2="518.9" y2="478.3" stroke-width="2.5"/>
<line x1="524.1" y1="351.5" x2="518.9" y2="478.3" stroke-width="3"/>
<line x1="524.1" y1="351.5" x2="518.9" y2="478.3" stroke-width="4"/>
<line x1="524.1" y1="351.5" x2="518.9" y2="478.3" stroke-width="5"/>
<line x1="524.3" y1="247.8" x2="362.9" y2="205.9" stroke-width="3"/>
<line x1="524.3" y1="247.8" x2="362.9" y2="205.9" stroke-width="2.5"/>
<line x1="524.1" y1="351.5" x2="362.9" y2="205.9" stroke-width="1"/>
<line x1="524.1" y1="351.5" x2="299.7" y2="332.5" stroke-width="0.7"/>
<line x1="524.1" y1="351.5" x2="253.8" y2="382.2" stroke-width="0.7"/>
<line x1="524.1" y1="351.5" x2="317.8" y2="401.7" stroke-width="0.7"/>
<line x1="856.5" y1="359.7" x2="735.3" y2="196.2" stroke-width="3"/>
<line x1="856.5" y1="359.7" x2="735.3" y2="196.2" stroke-width="2.5"/>
<line x1="856.5" y1="359.7" x2="898.2" y2="410.3" stroke-width="3"/>
<line x1="856.5" y1="359.7" x2="898.2" y2="410.3" stroke-width="2.5"/>
<line x1="856.5" y1="359.7" x2="898.2" y2="410.3" stroke-width="2"/>
<line x1="856.5" y1="359.7" x2="898.2" y2="410.3" stroke-width="1.5"/>
<line x1="856.5" y1="359.7" x2="677.1" y2="447.3" stroke-width="1"/>
<line x1="856.5" y1="359.7" x2="677.1" y2="447.3" stroke-width="1"/>
<line x1="856.5" y1="359.7" x2="799.7" y2="406.2" stroke-width="2.5"/>
<line x1="856.5" y1="359.7" x2="799.7" y2="406.2" stroke-width="2"/>
<line x1="856.5" y1="359.7" x2="717.1" y2="508.8" stroke-width="2.5"/>
<line x1="856.5" y1="359.7" x2="717.1" y2="508.8" stroke-width="2"/>
<line x1="856.5" y1="359.7" x2="776.1" y2="534.4" stroke-width="3"/>
<line x1="856.5" y1="359.7" x2="776.1" y2="534.4" stroke-width="2.5"/>
<line x1="856.5" y1="359.7" x2="824.5" y2="508.3" stroke-width="0.7"/>
<line x1="856.5" y1="359.7" x2="791.3" y2="612.2" stroke-width="0.7"/>
<line x1="856.5" y1="359.7" x2="873.7" y2="471" stroke-width="0.7"/>
<line x1="856.5" y1="359.7" x2="876.2" y2="591.7" stroke-width="0.7"/>
<line x1="856.5" y1="359.7" x2="905" y2="525.7" stroke-width="1"/>
<line x1="856.5" y1="359.7" x2="905" y2="525.7" stroke-width="1"/>
<line x1="898.2" y1="410.3" x2="717.1" y2="508.8" stroke-width="0.7"/>
<line x1="898.2" y1="410.3" x2="776.1" y2="534.4" stroke-width="2.5"/>
<line x1="898.2" y1="410.3" x2="776.1" y2="534.4" stroke-width="2"/>
<line x1="898.2" y1="410.3" x2="824.5" y2="508.3" stroke-width="2.5"/>
<line x1="898.2" y1="410.3" x2="824.5" y2="508.3" stroke-width="2"/>
<line x1="898.2" y1="410.3" x2="791.3" y2="612.2" stroke-width="3"/>
<line x1="898.2" y1="410.3" x2="791.3" y2="612.2" stroke-width="2.5"/>
<line x1="898.2" y1="410.3" x2="876.2" y2="591.7" stroke-width="1"/>
<line x1="898.2" y1="410.3" x2="876.2" y2="591.7" stroke-width="1"/>
<line x1="898.2" y1="410.3" x2="905" y2="525.7" stroke-width="2.5"/>
<line x1="898.2" y1="410.3" x2="905" y2="525.7" stroke-width="2"/>
<line x1="898.2" y1="410.3" x2="873.7" y2="471" stroke-width="0.7"/>
<line x1="799.7" y1="406.2" x2="776.1" y2="534.4" stroke-width="1"/>
<line x1="799.7" y1="406.2" x2="776.1" y2="534.4" stroke-width="1.5"/>
<line x1="799.7" y1="406.2" x2="776.1" y2="534.4" stroke-width="2"/>
<line x1="799.7" y1="406.2" x2="776.1" y2="534.4" stroke-width="3"/>
<line x1="799.7" y1="406.2" x2="776.1" y2="534.4" stroke-width="3.5"/>
<line x1="799.7" y1="406.2" x2="791.3" y2="612.2" stroke-width="2.5"/>
<line x1="799.7" y1="406.2" x2="791.3" y2="612.2" stroke-width="2"/>
<line x1="799.7" y1="406.2" x2="717.1" y2="508.8" stroke-width="2.5"/>
<line x1="799.7" y1="406.2" x2="717.1" y2="508.8" stroke-width="2"/>
<line x1="799.7" y1="406.2" x2="873.7" y2="471" stroke-width="3"/>
<line x1="799.7" y1="406.2" x2="873.7" y2="471" stroke-width="2.5"/>
<line x1="799.7" y1="406.2" x2="876.2" y2="591.7" stroke-width="0.7"/>
<line x1="799.7" y1="406.2" x2="824.5" y2="508.3" stroke-width="0.7"/>
<line x1="873.7" y1="471" x2="677.1" y2="447.3" stroke-width="1"/>
<line x1="873.7" y1="471" x2="677.1" y2="447.3" stroke-width="1"/>
<line x1="873.7" y1="471" x2="876.2" y2="591.7" stroke-width="4"/>
<line x1="873.7" y1="471" x2="876.2" y2="591.7" stroke-width="0.7"/>
<line x1="873.7" y1="471" x2="824.5" y2="508.3" stroke-width="3"/>
<line x1="873.7" y1="471" x2="824.5" y2="508.3" stroke-width="2.5"/>
<line x1="873.7" y1="471" x2="776.1" y2="534.4" stroke-width="3"/>
<line x1="873.7" y1="471" x2="776.1" y2="534.4" stroke-width="2.5"/>
<line x1="873.7" y1="471" x2="791.3" y2="612.2" stroke-width="3"/>
<line x1="873.7" y1="471" x2="791.3" y2="612.2" stroke-width="2.5"/>
<line x1="873.7" y1="471" x2="905" y2="525.7" stroke-width="0.7"/>
<line x1="677.1" y1="447.3" x2="824.5" y2="508.3" stroke-width="9"/>
<line x1="677.1" y1="447.3" x2="824.5" y2="508.3" stroke-width="8"/>
<line x1="677.1" y1="447.3" x2="824.5" y2="508.3" stroke-width="1"/>
<line x1="677.1" y1="447.3" x2="776.1" y2="534.4" stroke-width="3"/>
<line x1="677.1" y1="447.3" x2="776.1" y2="534.4" stroke-width="2.5"/>
<line x1="677.1" y1="447.3" x2="717.1" y2="508.8" stroke-width="3"/>
<line x1="677.1" y1="447.3" x2="717.1" y2="508.8" stroke-width="2.5"/>
<line x1="677.1" y1="447.3" x2="876.2" y2="591.7" stroke-width="4"/>
<line x1="677.1" y1="447.3" x2="876.2" y2="591.7" stroke-width="1"/>
<line x1="717.1" y1="508.8" x2="791.3" y2="612.2" stroke-width="3"/>
<line x1="717.1" y1="508.8" x2="791.3" y2="612.2" stroke-width="2.5"/>
<line x1="717.1" y1="508.8" x2="791.3" y2="612.2" stroke-width="2"/>
<line x1="717.1" y1="508.8" x2="791.3" y2="612.2" stroke-width="1.5"/>
<line x1="717.1" y1="508.8" x2="776.1" y2="534.4" stroke-width="3"/>
<line x1="717.1" y1="508.8" x2="776.1" y2="534.4" stroke-width="2.5"/>
<line x1="717.1" y1="508.8" x2="776.1" y2="534.4" stroke-width="4"/>
<line x1="717.1" y1="508.8" x2="824.5" y2="508.3" stroke-width="1"/>
<line x1="717.1" y1="508.8" x2="824.5" y2="508.3" stroke-width="1.5"/>
<line x1="717.1" y1="508.8" x2="824.5" y2="508.3" stroke-width="2"/>
<line x1="717.1" y1="508.8" x2="824.5" y2="508.3" stroke-width="3"/>
<line x1="717.1" y1="508.8" x2="824.5" y2="508.3" stroke-width="3.5"/>
<line x1="717.1" y1="508.8" x2="824.5" y2="508.3" stroke-width="4"/>
<line x1="824.5" y1="508.3" x2="791.3" y2="612.2" stroke-width="3"/>
<line x1="824.5" y1="508.3" x2="791.3" y2="612.2" stroke-width="2.5"/>
<line x1="824.5" y1="508.3" x2="776.1" y2="534.4" stroke-width="3"/>
<line x1="824.5" y1="508.3" x2="776.1" y2="534.4" stroke-width="2.5"/>
<line x1="776.1" y1="534.4" x2="791.3" y2="612.2" stroke-width="1"/>
<line x1="776.1" y1="534.4" x2="791.3" y2="612.2" stroke-width="1.5"/>
<line x1="776.1" y1="534.4" x2="791.3" y2="612.2" stroke-width="2"/>
<line x1="776.1" y1="534.4" x2="791.3" y2="612.2" stroke-width="3"/>
<line x1="776.1" y1="534.4" x2="791.3" y2="612.2" stroke-width="3.5"/>
<line x1="776.1" y1="534.4" x2="876.2" y2="591.7" stroke-width="6"/>
<line x1="776.1" y1="534.4" x2="876.2" y2="591.7" stroke-width="1"/>
<line x1="776.1" y1="534.4" x2="876.2" y2="591.7" stroke-width="1.5"/>
<line x1="776.1" y1="534.4" x2="876.2" y2="591.7" stroke-width="2"/>
<line x1="776.1" y1="534.4" x2="876.2" y2="591.7" stroke-width="3"/>
<line x1="776.1" y1="534.4" x2="876.2" y2="591.7" stroke-width="3.5"/>
<line x1="824.5" y1="508.3" x2="876.2" y2="591.7" stroke-width="2.5"/>
<line x1="824.5" y1="508.3" x2="876.2" y2="591.7" stroke-width="2"/>
<line x1="905" y1="525.7" x2="791.3" y2="612.2" stroke-width="3"/>
<line x1="905" y1="525.7" x2="791.3" y2="612.2" stroke-width="2.5"/>
<line x1="905" y1="525.7" x2="791.3" y2="612.2" stroke-width="2"/>
<line x1="905" y1="525.7" x2="791.3" y2="612.2" stroke-width="1.5"/>
<line x1="905" y1="525.7" x2="876.2" y2="591.7" stroke-width="0.7"/>
<line x1="905" y1="525.7" x2="776.1" y2="534.4" stroke-width="0.7"/>
<line x1="905" y1="525.7" x2="677.1" y2="447.3" stroke-width="0.7"/>
<line x1="876.2" y1="591.7" x2="791.3" y2="612.2" stroke-width="0.7"/>
<line x1="876.2" y1="591.7" x2="680.8" y2="717.7" stroke-width="0.7"/>
<line x1="680.8" y1="717.7" x2="824.5" y2="508.3" stroke-width="3"/>
<line x1="680.8" y1="717.7" x2="824.5" y2="508.3" stroke-width="2.5"/>
<line x1="260.6" y1="681" x2="791.3" y2="612.2" stroke-width="0.7"/>
<line x1="612.4" y1="357.5" x2="776.1" y2="534.4" stroke-width="1"/>
<line x1="612.4" y1="357.5" x2="776.1" y2="534.4" stroke-width="1"/>
<line x1="717.1" y1="508.8" x2="588.1" y2="682.3" stroke-width="0.7"/>
<line x1="776.1" y1="534.4" x2="534.4" y2="787.3" stroke-width="0.7"/>
<line x1="428.1" y1="703.5" x2="491.2" y2="692.3" stroke-width="1"/>
<line x1="428.1" y1="703.5" x2="491.2" y2="692.3" stroke-width="3"/>
<line x1="428.1" y1="703.5" x2="491.2" y2="692.3" stroke-width="5"/>
<line x1="428.1" y1="703.5" x2="588.1" y2="682.3" stroke-width="1"/>
<line x1="428.1" y1="703.5" x2="588.1" y2="682.3" stroke-width="3"/>
<line x1="428.1" y1="703.5" x2="588.1" y2="682.3" stroke-width="5"/>
<line x1="428.1" y1="703.5" x2="680.8" y2="717.7" stroke-width="2"/>
<line x1="428.1" y1="703.5" x2="680.8" y2="717.7" stroke-width="4"/>
<line x1="428.1" y1="703.5" x2="549.8" y2="736.5" stroke-width="1"/>
<line x1="428.1" y1="703.5" x2="549.8" y2="736.5" stroke-width="3"/>
<line x1="428.1" y1="703.5" x2="549.8" y2="736.5" stroke-width="5"/>
<line x1="428.1" y1="703.5" x2="610.2" y2="765.4" stroke-width="1"/>
<line x1="428.1" y1="703.5" x2="610.2" y2="765.4" stroke-width="2"/>
<line x1="428.1" y1="703.5" x2="610.2" y2="765.4" stroke-width="3"/>
<line x1="428.1" y1="703.5" x2="402.7" y2="768.5" stroke-width="6"/>
<line x1="428.1" y1="703.5" x2="402.7" y2="768.5" stroke-width="1"/>
<line x1="428.1" y1="703.5" x2="402.7" y2="768.5" stroke-width="2"/>
<line x1="428.1" y1="703.5" x2="402.7" y2="768.5" stroke-width="3"/>
<line x1="428.1" y1="703.5" x2="466.5" y2="775.6" stroke-width="1"/>
<line x1="428.1" y1="703.5" x2="466.5" y2="775.6" stroke-width="2"/>
<line x1="428.1" y1="703.5" x2="466.5" y2="775.6" stroke-width="3"/>
<line x1="428.1" y1="703.5" x2="466.5" y2="775.6" stroke-width="4"/>
<line x1="428.1" y1="703.5" x2="534.4" y2="787.3" stroke-width="1"/>
<line x1="428.1" y1="703.5" x2="534.4" y2="787.3" stroke-width="2"/>
<line x1="428.1" y1="703.5" x2="534.4" y2="787.3" stroke-width="3"/>
<line x1="428.1" y1="703.5" x2="534.4" y2="787.3" stroke-width="4"/>
<line x1="428.1" y1="703.5" x2="675.4" y2="790.2" stroke-width="1"/>
<line x1="428.1" y1="703.5" x2="585.2" y2="822.1" stroke-width="1"/>
<line x1="428.1" y1="703.5" x2="585.2" y2="822.1" stroke-width="2"/>
<line x1="428.1" y1="703.5" x2="585.2" y2="822.1" stroke-width="3"/>
<line x1="428.1" y1="703.5" x2="430" y2="827.1" stroke-width="1"/>
<line x1="428.1" y1="703.5" x2="430" y2="827.1" stroke-width="1"/>
<line x1="428.1" y1="703.5" x2="516.2" y2="836.7" stroke-width="1"/>
<line x1="428.1" y1="703.5" x2="516.2" y2="836.7" stroke-width="3"/>
<line x1="428.1" y1="703.5" x2="516.2" y2="836.7" stroke-width="5"/>
<line x1="491.2" y1="692.3" x2="588.1" y2="682.3" stroke-width="1"/>
<line x1="491.2" y1="692.3" x2="588.1" y2="682.3" stroke-width="3"/>
<line x1="491.2" y1="692.3" x2="588.1" y2="682.3" stroke-width="5"/>
<line x1="491.2" y1="692.3" x2="588.1" y2="682.3" stroke-width="1"/>
<line x1="491.2" y1="692.3" x2="588.1" y2="682.3" stroke-width="1"/>
<line x1="491.2" y1="692.3" x2="680.8" y2="717.7" stroke-width="2"/>
<line x1="491.2" y1="692.3" x2="680.8" y2="717.7" stroke-width="4"/>
<line x1="491.2" y1="692.3" x2="549.8" y2="736.5" stroke-width="1"/>
<line x1="491.2" y1="692.3" x2="549.8" y2="736.5" stroke-width="2"/>
<line x1="491.2" y1="692.3" x2="549.8" y2="736.5" stroke-width="3"/>
<line x1="491.2" y1="692.3" x2="549.8" y2="736.5" stroke-width="4"/>
<line x1="491.2" y1="692.3" x2="549.8" y2="736.5" stroke-width="5"/>
<line x1="491.2" y1="692.3" x2="610.2" y2="765.4" stroke-width="1"/>
<line x1="491.2" y1="692.3" x2="610.2" y2="765.4" stroke-width="2"/>
<line x1="491.2" y1="692.3" x2="610.2" y2="765.4" stroke-width="3"/>
<line x1="491.2" y1="692.3" x2="610.2" y2="765.4" stroke-width="4"/>
<line x1="491.2" y1="692.3" x2="610.2" y2="765.4" stroke-width="5"/>
<line x1="491.2" y1="692.3" x2="402.7" y2="768.5" stroke-width="1"/>
<line x1="491.2" y1="692.3" x2="402.7" y2="768.5" stroke-width="3"/>
<line x1="491.2" y1="692.3" x2="402.7" y2="768.5" stroke-width="5"/>
<line x1="491.2" y1="692.3" x2="466.5" y2="775.6" stroke-width="1"/>
<line x1="491.2" y1="692.3" x2="466.5" y2="775.6" stroke-width="1.5"/>
<line x1="491.2" y1="692.3" x2="466.5" y2="775.6" stroke-width="2"/>
<line x1="491.2" y1="692.3" x2="466.5" y2="775.6" stroke-width="2.5"/>
<line x1="491.2" y1="692.3" x2="466.5" y2="775.6" stroke-width="3"/>
<line x1="491.2" y1="692.3" x2="466.5" y2="775.6" stroke-width="4"/>
<line x1="491.2" y1="692.3" x2="466.5" y2="775.6" stroke-width="5"/>
<line x1="491.2" y1="692.3" x2="534.4" y2="787.3" stroke-width="1"/>
<line x1="491.2" y1="692.3" x2="534.4" y2="787.3" stroke-width="2"/>
<line x1="491.2" y1="692.3" x2="534.4" y2="787.3" stroke-width="3"/>
<line x1="491.2" y1="692.3" x2="534.4" y2="787.3" stroke-width="4"/>
<line x1="491.2" y1="692.3" x2="675.4" y2="790.2" stroke-width="2"/>
<line x1="491.2" y1="692.3" x2="675.4" y2="790.2" stroke-width="4"/>
<line x1="491.2" y1="692.3" x2="585.2" y2="822.1" stroke-width="1"/>
<line x1="491.2" y1="692.3" x2="585.2" y2="822.1" stroke-width="2"/>
<line x1="491.2" y1="692.3" x2="585.2" y2="822.1" stroke-width="3"/>
<line x1="491.2" y1="692.3" x2="585.2" y2="822.1" stroke-width="4"/>
<line x1="491.2" y1="692.3" x2="430" y2="827.1" stroke-width="1"/>
<line x1="491.2" y1="692.3" x2="430" y2="827.1" stroke-width="2"/>
<line x1="491.2" y1="692.3" x2="430" y2="827.1" stroke-width="3"/>
<line x1="491.2" y1="692.3" x2="430" y2="827.1" stroke-width="4"/>
<line x1="491.2" y1="692.3" x2="430" y2="827.1" stroke-width="5"/>
<line x1="491.2" y1="692.3" x2="516.2" y2="836.7" stroke-width="1"/>
<line x1="491.2" y1="692.3" x2="516.2" y2="836.7" stroke-width="1.5"/>
<line x1="491.2" y1="692.3" x2="516.2" y2="836.7" stroke-width="2"/>
<line x1="491.2" y1="692.3" x2="516.2" y2="836.7" stroke-width="2.5"/>
<line x1="491.2" y1="692.3" x2="516.2" y2="836.7" stroke-width="3"/>
<line x1="491.2" y1="692.3" x2="516.2" y2="836.7" stroke-width="4"/>
<line x1="491.2" y1="692.3" x2="516.2" y2="836.7" stroke-width="5"/>
<line x1="588.1" y1="682.3" x2="680.8" y2="717.7" stroke-width="1"/>
<line x1="588.1" y1="682.3" x2="680.8" y2="717.7" stroke-width="3"/>
<line x1="588.1" y1="682.3" x2="680.8" y2="717.7" stroke-width="5"/>
<line x1="588.1" y1="682.3" x2="549.8" y2="736.5" stroke-width="1"/>
<line x1="588.1" y1="682.3" x2="549.8" y2="736.5" stroke-width="2"/>
<line x1="588.1" y1="682.3" x2="549.8" y2="736.5" stroke-width="3"/>
<line x1="588.1" y1="682.3" x2="549.8" y2="736.5" stroke-width="4"/>
<line x1="588.1" y1="682.3" x2="610.2" y2="765.4" stroke-width="1"/>
<line x1="588.1" y1="682.3" x2="610.2" y2="765.4" stroke-width="1.5"/>
<line x1="588.1" y1="682.3" x2="610.2" y2="765.4" stroke-width="2"/>
<line x1="588.1" y1="682.3" x2="610.2" y2="765.4" stroke-width="2.5"/>
<line x1="588.1" y1="682.3" x2="610.2" y2="765.4" stroke-width="3"/>
<line x1="588.1" y1="682.3" x2="610.2" y2="765.4" stroke-width="4"/>
<line x1="588.1" y1="682.3" x2="610.2" y2="765.4" stroke-width="5"/>
<line x1="588.1" y1="682.3" x2="610.2" y2="765.4" stroke-width="6"/>
<line x1="588.1" y1="682.3" x2="402.7" y2="768.5" stroke-width="1"/>
<line x1="588.1" y1="682.3" x2="402.7" y2="768.5" stroke-width="2"/>
<line x1="588.1" y1="682.3" x2="402.7" y2="768.5" stroke-width="3"/>
<line x1="588.1" y1="682.3" x2="466.5" y2="775.6" stroke-width="8"/>
<line x1="588.1" y1="682.3" x2="466.5" y2="775.6" stroke-width="6"/>
<line x1="588.1" y1="682.3" x2="466.5" y2="775.6" stroke-width="1"/>
<line x1="588.1" y1="682.3" x2="466.5" y2="775.6" stroke-width="2"/>
<line x1="588.1" y1="682.3" x2="466.5" y2="775.6" stroke-width="3"/>
<line x1="588.1" y1="682.3" x2="534.4" y2="787.3" stroke-width="1"/>
<line x1="588.1" y1="682.3" x2="534.4" y2="787.3" stroke-width="3"/>
<line x1="588.1" y1="682.3" x2="534.4" y2="787.3" stroke-width="5"/>
<line x1="588.1" y1="682.3" x2="675.4" y2="790.2" stroke-width="1"/>
<line x1="588.1" y1="682.3" x2="675.4" y2="790.2" stroke-width="1"/>
<line x1="588.1" y1="682.3" x2="675.4" y2="790.2" stroke-width="1"/>
<line x1="588.1" y1="682.3" x2="675.4" y2="790.2" stroke-width="1"/>
<line x1="588.1" y1="682.3" x2="585.2" y2="822.1" stroke-width="6"/>
<line x1="588.1" y1="682.3" x2="585.2" y2="822.1" stroke-width="1"/>
<line x1="588.1" y1="682.3" x2="585.2" y2="822.1" stroke-width="2"/>
<line x1="588.1" y1="682.3" x2="585.2" y2="822.1" stroke-width="3"/>
<line x1="588.1" y1="682.3" x2="430" y2="827.1" stroke-width="1"/>
<line x1="588.1" y1="682.3" x2="430" y2="827.1" stroke-width="2"/>
<line x1="588.1" y1="682.3" x2="430" y2="827.1" stroke-width="3"/>
<line x1="588.1" y1="682.3" x2="516.2" y2="836.7" stroke-width="1"/>
<line x1="588.1" y1="682.3" x2="516.2" y2="836.7" stroke-width="3"/>
<line x1="588.1" y1="682.3" x2="516.2" y2="836.7" stroke-width="5"/>
<line x1="680.8" y1="717.7" x2="549.8" y2="736.5" stroke-width="2"/>
<line x1="680.8" y1="717.7" x2="549.8" y2="736.5" stroke-width="4"/>
<line x1="680.8" y1="717.7" x2="610.2" y2="765.4" stroke-width="1"/>
<line x1="680.8" y1="717.7" x2="610.2" y2="765.4" stroke-width="2"/>
<line x1="680.8" y1="717.7" x2="610.2" y2="765.4" stroke-width="3"/>
<line x1="680.8" y1="717.7" x2="610.2" y2="765.4" stroke-width="4"/>
<line x1="680.8" y1="717.7" x2="610.2" y2="765.4" stroke-width="5"/>
<line x1="680.8" y1="717.7" x2="402.7" y2="768.5" stroke-width="2"/>
<line x1="680.8" y1="717.7" x2="402.7" y2="768.5" stroke-width="4"/>
<line x1="680.8" y1="717.7" x2="466.5" y2="775.6" stroke-width="2"/>
<line x1="680.8" y1="717.7" x2="466.5" y2="775.6" stroke-width="4"/>
<line x1="680.8" y1="717.7" x2="534.4" y2="787.3" stroke-width="2"/>
<line x1="680.8" y1="717.7" x2="534.4" y2="787.3" stroke-width="4"/>
<line x1="680.8" y1="717.7" x2="675.4" y2="790.2" stroke-width="0.7"/>
<line x1="680.8" y1="717.7" x2="585.2" y2="822.1" stroke-width="3"/>
<line x1="680.8" y1="717.7" x2="585.2" y2="822.1" stroke-width="2.5"/>
<line x1="680.8" y1="717.7" x2="430" y2="827.1" stroke-width="2"/>
<line x1="680.8" y1="717.7" x2="430" y2="827.1" stroke-width="4"/>
<line x1="680.8" y1="717.7" x2="516.2" y2="836.7" stroke-width="2"/>
<line x1="680.8" y1="717.7" x2="516.2" y2="836.7" stroke-width="4"/>
<line x1="549.8" y1="736.5" x2="610.2" y2="765.4" stroke-width="1"/>
<line x1="549.8" y1="736.5" x2="610.2" y2="765.4" stroke-width="1.5"/>
<line x1="549.8" y1="736.5" x2="610.2" y2="765.4" stroke-width="2"/>
<line x1="549.8" y1="736.5" x2="610.2" y2="765.4" stroke-width="2.5"/>
<line x1="549.8" y1="736.5" x2="610.2" y2="765.4" stroke-width="3"/>
<line x1="549.8" y1="736.5" x2="610.2" y2="765.4" stroke-width="4"/>
<line x1="549.8" y1="736.5" x2="610.2" y2="765.4" stroke-width="5"/>
<line x1="549.8" y1="736.5" x2="402.7" y2="768.5" stroke-width="1"/>
<line x1="549.8" y1="736.5" x2="402.7" y2="768.5" stroke-width="3"/>
<line x1="549.8" y1="736.5" x2="402.7" y2="768.5" stroke-width="5"/>
<line x1="549.8" y1="736.5" x2="466.5" y2="775.6" stroke-width="1"/>
<line x1="549.8" y1="736.5" x2="466.5" y2="775.6" stroke-width="2"/>
<line x1="549.8" y1="736.5" x2="466.5" y2="775.6" stroke-width="3"/>
<line x1="549.8" y1="736.5" x2="466.5" y2="775.6" stroke-width="4"/>
<line x1="549.8" y1="736.5" x2="534.4" y2="787.3" stroke-width="1"/>
<line x1="549.8" y1="736.5" x2="534.4" y2="787.3" stroke-width="2"/>
<line x1="549.8" y1="736.5" x2="534.4" y2="787.3" stroke-width="3"/>
<line x1="549.8" y1="736.5" x2="534.4" y2="787.3" stroke-width="4"/>
<line x1="549.8" y1="736.5" x2="675.4" y2="790.2" stroke-width="2"/>
<line x1="549.8" y1="736.5" x2="675.4" y2="790.2" stroke-width="4"/>
<line x1="549.8" y1="736.5" x2="585.2" y2="822.1" stroke-width="1"/>
<line x1="549.8" y1="736.5" x2="585.2" y2="822.1" stroke-width="2"/>
<line x1="549.8" y1="736.5" x2="585.2" y2="822.1" stroke-width="3"/>
<line x1="549.8" y1="736.5" x2="585.2" y2="822.1" stroke-width="4"/>
<line x1="549.8" y1="736.5" x2="585.2" y2="822.1" stroke-width="5"/>
<line x1="549.8" y1="736.5" x2="430" y2="827.1" stroke-width="1"/>
<line x1="549.8" y1="736.5" x2="430" y2="827.1" stroke-width="2"/>
<line x1="549.8" y1="736.5" x2="430" y2="827.1" stroke-width="3"/>
<line x1="549.8" y1="736.5" x2="516.2" y2="836.7" stroke-width="1"/>
<line x1="549.8" y1="736.5" x2="516.2" y2="836.7" stroke-width="2"/>
<line x1="549.8" y1="736.5" x2="516.2" y2="836.7" stroke-width="3"/>
<line x1="549.8" y1="736.5" x2="516.2" y2="836.7" stroke-width="4"/>
<line x1="610.2" y1="765.4" x2="402.7" y2="768.5" stroke-width="1"/>
<line x1="610.2" y1="765.4" x2="402.7" y2="768.5" stroke-width="2"/>
<line x1="610.2" y1="765.4" x2="402.7" y2="768.5" stroke-width="3"/>
<line x1="610.2" y1="765.4" x2="466.5" y2="775.6" stroke-width="1"/>
<line x1="610.2" y1="765.4" x2="466.5" y2="775.6" stroke-width="3"/>
<line x1="610.2" y1="765.4" x2="466.5" y2="775.6" stroke-width="5"/>
<line x1="610.2" y1="765.4" x2="534.4" y2="787.3" stroke-width="1"/>
<line x1="610.2" y1="765.4" x2="534.4" y2="787.3" stroke-width="2"/>
<line x1="610.2" y1="765.4" x2="534.4" y2="787.3" stroke-width="3"/>
<line x1="610.2" y1="765.4" x2="534.4" y2="787.3" stroke-width="4"/>
<line x1="610.2" y1="765.4" x2="675.4" y2="790.2" stroke-width="2"/>
<line x1="610.2" y1="765.4" x2="675.4" y2="790.2" stroke-width="4"/>
<line x1="610.2" y1="765.4" x2="585.2" y2="822.1" stroke-width="1"/>
<line x1="610.2" y1="765.4" x2="585.2" y2="822.1" stroke-width="1"/>
<line x1="610.2" y1="765.4" x2="585.2" y2="822.1" stroke-width="2"/>
<line x1="610.2" y1="765.4" x2="585.2" y2="822.1" stroke-width="4"/>
<line x1="610.2" y1="765.4" x2="430" y2="827.1" stroke-width="1"/>
<line x1="610.2" y1="765.4" x2="430" y2="827.1" stroke-width="2"/>
<line x1="610.2" y1="765.4" x2="430" y2="827.1" stroke-width="3"/>
<line x1="610.2" y1="765.4" x2="516.2" y2="836.7" stroke-width="1"/>
<line x1="610.2" y1="765.4" x2="516.2" y2="836.7" stroke-width="3"/>
<line x1="610.2" y1="765.4" x2="516.2" y2="836.7" stroke-width="5"/>
<line x1="402.7" y1="768.5" x2="466.5" y2="775.6" stroke-width="1"/>
<line x1="402.7" y1="768.5" x2="466.5" y2="775.6" stroke-width="3"/>
<line x1="402.7" y1="768.5" x2="466.5" y2="775.6" stroke-width="5"/>
<line x1="402.7" y1="768.5" x2="534.4" y2="787.3" stroke-width="1"/>
<line x1="402.7" y1="768.5" x2="534.4" y2="787.3" stroke-width="2"/>
<line x1="402.7" y1="768.5" x2="534.4" y2="787.3" stroke-width="3"/>
<line x1="402.7" y1="768.5" x2="534.4" y2="787.3" stroke-width="4"/>
<line x1="402.7" y1="768.5" x2="675.4" y2="790.2" stroke-width="2"/>
<line x1="402.7" y1="768.5" x2="675.4" y2="790.2" stroke-width="4"/>
<line x1="402.7" y1="768.5" x2="585.2" y2="822.1" stroke-width="1"/>
<line x1="402.7" y1="768.5" x2="585.2" y2="822.1" stroke-width="2"/>
<line x1="402.7" y1="768.5" x2="585.2" y2="822.1" stroke-width="3"/>
<line x1="402.7" y1="768.5" x2="430" y2="827.1" stroke-width="1"/>
<line x1="402.7" y1="768.5" x2="430" y2="827.1" stroke-width="1"/>
<line x1="402.7" y1="768.5" x2="516.2" y2="836.7" stroke-width="1"/>
<line x1="402.7" y1="768.5" x2="516.2" y2="836.7" stroke-width="1"/>
<line x1="402.7" y1="768.5" x2="516.2" y2="836.7" stroke-width="1"/>
<line x1="402.7" y1="768.5" x2="516.2" y2="836.7" stroke-width="1"/>
<line x1="466.5" y1="775.6" x2="534.4" y2="787.3" stroke-width="1"/>
<line x1="466.5" y1="775.6" x2="534.4" y2="787.3" stroke-width="2"/>
<line x1="466.5" y1="775.6" x2="534.4" y2="787.3" stroke-width="3"/>
<line x1="466.5" y1="775.6" x2="534.4" y2="787.3" stroke-width="4"/>
<line x1="466.5" y1="775.6" x2="675.4" y2="790.2" stroke-width="2"/>
<line x1="466.5" y1="775.6" x2="675.4" y2="790.2" stroke-width="4"/>
<line x1="466.5" y1="775.6" x2="585.2" y2="822.1" stroke-width="1"/>
<line x1="466.5" y1="775.6" x2="585.2" y2="822.1" stroke-width="2"/>
<line x1="466.5" y1="775.6" x2="585.2" y2="822.1" stroke-width="3"/>
<line x1="466.5" y1="775.6" x2="585.2" y2="822.1" stroke-width="4"/>
<line x1="466.5" y1="775.6" x2="585.2" y2="822.1" stroke-width="5"/>
<line x1="466.5" y1="775.6" x2="430" y2="827.1" stroke-width="10"/>
<line x1="466.5" y1="775.6" x2="430" y2="827.1" stroke-width="8"/>
<line x1="466.5" y1="775.6" x2="430" y2="827.1" stroke-width="1"/>
<line x1="466.5" y1="775.6" x2="430" y2="827.1" stroke-width="2"/>
<line x1="466.5" y1="775.6" x2="430" y2="827.1" stroke-width="3"/>
<line x1="466.5" y1="775.6" x2="516.2" y2="836.7" stroke-width="1"/>
<line x1="466.5" y1="775.6" x2="516.2" y2="836.7" stroke-width="2"/>
<line x1="466.5" y1="775.6" x2="516.2" y2="836.7" stroke-width="3"/>
<line x1="466.5" y1="775.6" x2="516.2" y2="836.7" stroke-width="4"/>
<line x1="534.4" y1="787.3" x2="675.4" y2="790.2" stroke-width="2"/>
<line x1="534.4" y1="787.3" x2="675.4" y2="790.2" stroke-width="4"/>
<line x1="534.4" y1="787.3" x2="585.2" y2="822.1" stroke-width="1"/>
<line x1="534.4" y1="787.3" x2="585.2" y2="822.1" stroke-width="2"/>
<line x1="534.4" y1="787.3" x2="585.2" y2="822.1" stroke-width="3"/>
<line x1="534.4" y1="787.3" x2="585.2" y2="822.1" stroke-width="4"/>
<line x1="534.4" y1="787.3" x2="430" y2="827.1" stroke-width="1"/>
<line x1="534.4" y1="787.3" x2="430" y2="827.1" stroke-width="3"/>
<line x1="534.4" y1="787.3" x2="430" y2="827.1" stroke-width="5"/>
<line x1="534.4" y1="787.3" x2="516.2" y2="836.7" stroke-width="8"/>
<line x1="534.4" y1="787.3" x2="516.2" y2="836.7" stroke-width="6"/>
<line x1="534.4" y1="787.3" x2="516.2" y2="836.7" stroke-width="1"/>
<line x1="534.4" y1="787.3" x2="516.2" y2="836.7" stroke-width="2"/>
<line x1="534.4" y1="787.3" x2="516.2" y2="836.7" stroke-width="3"/>
<line x1="534.4" y1="787.3" x2="516.2" y2="836.7" stroke-width="4"/>
<line x1="675.4" y1="790.2" x2="585.2" y2="822.1" stroke-width="2"/>
<line x1="675.4" y1="790.2" x2="585.2" y2="822.1" stroke-width="4"/>
<line x1="675.4" y1="790.2" x2="430" y2="827.1" stroke-width="0.7"/>
<line x1="675.4" y1="790.2" x2="516.2" y2="836.7" stroke-width="1"/>
<line x1="585.2" y1="822.1" x2="430" y2="827.1" stroke-width="2"/>
<line x1="585.2" y1="822.1" x2="430" y2="827.1" stroke-width="4"/>
<line x1="585.2" y1="822.1" x2="516.2" y2="836.7" stroke-width="1"/>
<line x1="585.2" y1="822.1" x2="516.2" y2="836.7" stroke-width="3"/>
<line x1="585.2" y1="822.1" x2="516.2" y2="836.7" stroke-width="5"/>
<line x1="430" y1="827.1" x2="516.2" y2="836.7" stroke-width="2"/>
<line x1="430" y1="827.1" x2="516.2" y2="836.7" stroke-width="4"/>
<line x1="430" y1="827.1" x2="516.2" y2="836.7" stroke-width="1"/>
<line x1="430" y1="827.1" x2="516.2" y2="836.7" stroke-width="1"/>
<line x1="497.4" y1="475.2" x2="428.1" y2="703.5" stroke-width="1"/>
<line x1="497.4" y1="475.2" x2="428.1" y2="703.5" stroke-width="2"/>
<line x1="497.4" y1="475.2" x2="428.1" y2="703.5" stroke-width="3"/>
<line x1="497.4" y1="475.2" x2="428.1" y2="703.5" stroke-width="4"/>
<line x1="518.9" y1="478.3" x2="428.1" y2="703.5" stroke-width="1"/>
<line x1="518.9" y1="478.3" x2="428.1" y2="703.5" stroke-width="2"/>
<line x1="518.9" y1="478.3" x2="428.1" y2="703.5" stroke-width="3"/>
<line x1="518.9" y1="478.3" x2="428.1" y2="703.5" stroke-width="4"/>
<line x1="497.4" y1="475.2" x2="491.2" y2="692.3" stroke-width="1"/>
<line x1="497.4" y1="475.2" x2="491.2" y2="692.3" stroke-width="2"/>
<line x1="497.4" y1="475.2" x2="491.2" y2="692.3" stroke-width="3"/>
<line x1="497.4" y1="475.2" x2="491.2" y2="692.3" stroke-width="4"/>
<line x1="518.9" y1="478.3" x2="491.2" y2="692.3" stroke-width="1"/>
<line x1="518.9" y1="478.3" x2="491.2" y2="692.3" stroke-width="2"/>
<line x1="518.9" y1="478.3" x2="491.2" y2="692.3" stroke-width="3"/>
<line x1="518.9" y1="478.3" x2="491.2" y2="692.3" stroke-width="4"/>
<line x1="497.4" y1="475.2" x2="588.1" y2="682.3" stroke-width="1"/>
<line x1="497.4" y1="475.2" x2="588.1" y2="682.3" stroke-width="2"/>
<line x1="497.4" y1="475.2" x2="588.1" y2="682.3" stroke-width="3"/>
<line x1="497.4" y1="475.2" x2="588.1" y2="682.3" stroke-width="4"/>
<line x1="518.9" y1="478.3" x2="588.1" y2="682.3" stroke-width="1"/>
<line x1="518.9" y1="478.3" x2="588.1" y2="682.3" stroke-width="2"/>
<line x1="518.9" y1="478.3" x2="588.1" y2="682.3" stroke-width="3"/>
<line x1="518.9" y1="478.3" x2="588.1" y2="682.3" stroke-width="4"/>
<line x1="497.4" y1="475.2" x2="680.8" y2="717.7" stroke-width="1"/>
<line x1="497.4" y1="475.2" x2="680.8" y2="717.7" stroke-width="2"/>
<line x1="497.4" y1="475.2" x2="680.8" y2="717.7" stroke-width="3"/>
<line x1="497.4" y1="475.2" x2="680.8" y2="717.7" stroke-width="4"/>
<line x1="518.9" y1="478.3" x2="680.8" y2="717.7" stroke-width="1"/>
<line x1="518.9" y1="478.3" x2="680.8" y2="717.7" stroke-width="2"/>
<line x1="518.9" y1="478.3" x2="680.8" y2="717.7" stroke-width="3"/>
<line x1="518.9" y1="478.3" x2="680.8" y2="717.7" stroke-width="4"/>
<line x1="497.4" y1="475.2" x2="549.8" y2="736.5" stroke-width="1"/>
<line x1="497.4" y1="475.2" x2="549.8" y2="736.5" stroke-width="2"/>
<line x1="497.4" y1="475.2" x2="549.8" y2="736.5" stroke-width="3"/>
<line x1="497.4" y1="475.2" x2="549.8" y2="736.5" stroke-width="4"/>
<line x1="518.9" y1="478.3" x2="549.8" y2="736.5" stroke-width="1"/>
<line x1="518.9" y1="478.3" x2="549.8" y2="736.5" stroke-width="2"/>
<line x1="518.9" y1="478.3" x2="549.8" y2="736.5" stroke-width="3"/>
<line x1="518.9" y1="478.3" x2="549.8" y2="736.5" stroke-width="4"/>
<line x1="497.4" y1="475.2" x2="610.2" y2="765.4" stroke-width="1"/>
<line x1="497.4" y1="475.2" x2="610.2" y2="765.4" stroke-width="2"/>
<line x1="497.4" y1="475.2" x2="610.2" y2="765.4" stroke-width="3"/>
<line x1="497.4" y1="475.2" x2="610.2" y2="765.4" stroke-width="4"/>
<line x1="518.9" y1="478.3" x2="610.2" y2="765.4" stroke-width="1"/>
<line x1="518.9" y1="478.3" x2="610.2" y2="765.4" stroke-width="2"/>
<line x1="518.9" y1="478.3" x2="610.2" y2="765.4" stroke-width="3"/>
<line x1="518.9" y1="478.3" x2="610.2" y2="765.4" stroke-width="4"/>
<line x1="497.4" y1="475.2" x2="402.7" y2="768.5" stroke-width="1"/>
<line x1="497.4" y1="475.2" x2="402.7" y2="768.5" stroke-width="2"/>
<line x1="497.4" y1="475.2" x2="402.7" y2="768.5" stroke-width="3"/>
<line x1="497.4" y1="475.2" x2="402.7" y2="768.5" stroke-width="4"/>
<line x1="518.9" y1="478.3" x2="402.7" y2="768.5" stroke-width="1"/>
<line x1="518.9" y1="478.3" x2="402.7" y2="768.5" stroke-width="1"/>
<line x1="518.9" y1="478.3" x2="402.7" y2="768.5" stroke-width="1"/>
<line x1="518.9" y1="478.3" x2="402.7" y2="768.5" stroke-width="1"/>
<line x1="497.4" y1="475.2" x2="466.5" y2="775.6" stroke-width="1"/>
<line x1="497.4" y1="475.2" x2="466.5" y2="775.6" stroke-width="2"/>
<line x1="497.4" y1="475.2" x2="466.5" y2="775.6" stroke-width="3"/>
<line x1="497.4" y1="475.2" x2="466.5" y2="775.6" stroke-width="4"/>
<line x1="518.9" y1="478.3" x2="466.5" y2="775.6" stroke-width="1"/>
<line x1="518.9" y1="478.3" x2="466.5" y2="775.6" stroke-width="2"/>
<line x1="518.9" y1="478.3" x2="466.5" y2="775.6" stroke-width="3"/>
<line x1="518.9" y1="478.3" x2="466.5" y2="775.6" stroke-width="4"/>
<line x1="497.4" y1="475.2" x2="534.4" y2="787.3" stroke-width="1"/>
<line x1="497.4" y1="475.2" x2="534.4" y2="787.3" stroke-width="2"/>
<line x1="497.4" y1="475.2" x2="534.4" y2="787.3" stroke-width="3"/>
<line x1="497.4" y1="475.2" x2="534.4" y2="787.3" stroke-width="4"/>
<line x1="518.9" y1="478.3" x2="534.4" y2="787.3" stroke-width="1"/>
<line x1="518.9" y1="478.3" x2="534.4" y2="787.3" stroke-width="2"/>
<line x1="518.9" y1="478.3" x2="534.4" y2="787.3" stroke-width="3"/>
<line x1="518.9" y1="478.3" x2="534.4" y2="787.3" stroke-width="4"/>
<line x1="497.4" y1="475.2" x2="675.4" y2="790.2" stroke-width="1"/>
<line x1="497.4" y1="475.2" x2="675.4" y2="790.2" stroke-width="2"/>
<line x1="497.4" y1="475.2" x2="675.4" y2="790.2" stroke-width="3"/>
<line x1="497.4" y1="475.2" x2="675.4" y2="790.2" stroke-width="4"/>
<line x1="518.9" y1="478.3" x2="675.4" y2="790.2" stroke-width="1"/>
<line x1="518.9" y1="478.3" x2="675.4" y2="790.2" stroke-width="1"/>
<line x1="518.9" y1="478.3" x2="675.4" y2="790.2" stroke-width="1"/>
<line x1="518.9" y1="478.3" x2="675.4" y2="790.2" stroke-width="1"/>
<line x1="497.4" y1="475.2" x2="585.2" y2="822.1" stroke-width="1"/>
<line x1="497.4" y1="475.2" x2="585.2" y2="822.1" stroke-width="2"/>
<line x1="497.4" y1="475.2" x2="585.2" y2="822.1" stroke-width="3"/>
<line x1="497.4" y1="475.2" x2="585.2" y2="822.1" stroke-width="4"/>
<line x1="518.9" y1="478.3" x2="585.2" y2="822.1" stroke-width="1"/>
<line x1="518.9" y1="478.3" x2="585.2" y2="822.1" stroke-width="1"/>
<line x1="518.9" y1="478.3" x2="585.2" y2="822.1" stroke-width="1"/>
<line x1="518.9" y1="478.3" x2="585.2" y2="822.1" stroke-width="1"/>
<line x1="497.4" y1="475.2" x2="430" y2="827.1" stroke-width="1"/>
<line x1="497.4" y1="475.2" x2="430" y2="827.1" stroke-width="2"/>
<line x1="497.4" y1="475.2" x2="430" y2="827.1" stroke-width="3"/>
<line x1="497.4" y1="475.2" x2="430" y2="827.1" stroke-width="4"/>
<line x1="518.9" y1="478.3" x2="430" y2="827.1" stroke-width="1"/>
<line x1="518.9" y1="478.3" x2="430" y2="827.1" stroke-width="1"/>
<line x1="518.9" y1="478.3" x2="430" y2="827.1" stroke-width="1"/>
<line x1="518.9" y1="478.3" x2="430" y2="827.1" stroke-width="1"/>
<line x1="497.4" y1="475.2" x2="516.2" y2="836.7" stroke-width="1"/>
<line x1="497.4" y1="475.2" x2="516.2" y2="836.7" stroke-width="2"/>
<line x1="497.4" y1="475.2" x2="516.2" y2="836.7" stroke-width="3"/>
<line x1="497.4" y1="475.2" x2="516.2" y2="836.7" stroke-width="4"/>
<line x1="518.9" y1="478.3" x2="516.2" y2="836.7" stroke-width="1"/>
<line x1="518.9" y1="478.3" x2="516.2" y2="836.7" stroke-width="2"/>
<line x1="518.9" y1="478.3" x2="516.2" y2="836.7" stroke-width="3"/>
<line x1="518.9" y1="478.3" x2="516.2" y2="836.7" stroke-width="4"/>
<line x1="253.8" y1="382.2" x2="491.2" y2="692.3" stroke-width="3"/>
<line x1="253.8" y1="382.2" x2="491.2" y2="692.3" stroke-width="2.5"/>
<line x1="317.8" y1="401.7" x2="428.1" y2="703.5" stroke-width="1"/>
<line x1="317.8" y1="401.7" x2="428.1" y2="703.5" stroke-width="1"/>
<line x1="295.2" y1="593.1" x2="677.1" y2="447.3" stroke-width="0.7"/>
<line x1="132.5" y1="535.4" x2="201.9" y2="555.8" stroke-width="3"/>
<line x1="132.5" y1="535.4" x2="201.9" y2="555.8" stroke-width="2.5"/>
<line x1="132.5" y1="535.4" x2="161.7" y2="623.3" stroke-width="6"/>
<line x1="132.5" y1="535.4" x2="161.7" y2="623.3" stroke-width="1"/>
<line x1="132.5" y1="535.4" x2="161.7" y2="623.3" stroke-width="1"/>
<line x1="132.5" y1="535.4" x2="260.6" y2="681" stroke-width="1"/>
<line x1="132.5" y1="535.4" x2="260.6" y2="681" stroke-width="1"/>
<line x1="132.5" y1="535.4" x2="253.8" y2="382.2" stroke-width="1"/>
<line x1="126" y1="672.1" x2="191.6" y2="379.3" stroke-width="0.7"/>
<line x1="201.9" y1="555.8" x2="253.8" y2="382.2" stroke-width="1"/>
<line x1="201.9" y1="555.8" x2="161.7" y2="623.3" stroke-width="1"/>
<line x1="201.9" y1="555.8" x2="161.7" y2="623.3" stroke-width="2"/>
<line x1="201.9" y1="555.8" x2="161.7" y2="623.3" stroke-width="3"/>
<line x1="201.9" y1="555.8" x2="161.7" y2="623.3" stroke-width="4"/>
<line x1="201.9" y1="555.8" x2="161.7" y2="623.3" stroke-width="5"/>
<line x1="201.9" y1="555.8" x2="260.6" y2="681" stroke-width="8"/>
<line x1="201.9" y1="555.8" x2="260.6" y2="681" stroke-width="1"/>
<line x1="201.9" y1="555.8" x2="260.6" y2="681" stroke-width="1"/>
<line x1="201.9" y1="555.8" x2="295.2" y2="593.1" stroke-width="1"/>
<line x1="201.9" y1="555.8" x2="295.2" y2="593.1" stroke-width="1"/>
<line x1="201.9" y1="555.8" x2="402.7" y2="768.5" stroke-width="0.7"/>
<line x1="161.7" y1="623.3" x2="295.2" y2="593.1" stroke-width="1"/>
<line x1="161.7" y1="623.3" x2="295.2" y2="593.1" stroke-width="1"/>
<line x1="161.7" y1="623.3" x2="260.6" y2="681" stroke-width="1"/>
<line x1="161.7" y1="623.3" x2="260.6" y2="681" stroke-width="1"/>
<line x1="260.6" y1="681" x2="295.2" y2="593.1" stroke-width="1"/>
<line x1="260.6" y1="681" x2="295.2" y2="593.1" stroke-width="1.5"/>
<line x1="260.6" y1="681" x2="295.2" y2="593.1" stroke-width="2"/>
<line x1="260.6" y1="681" x2="295.2" y2="593.1" stroke-width="3"/>
<line x1="260.6" y1="681" x2="295.2" y2="593.1" stroke-width="3.5"/>
<line x1="497.4" y1="475.2" x2="132.5" y2="535.4" stroke-width="1"/>
<line x1="497.4" y1="475.2" x2="132.5" y2="535.4" stroke-width="2"/>
<line x1="497.4" y1="475.2" x2="132.5" y2="535.4" stroke-width="3"/>
<line x1="497.4" y1="475.2" x2="132.5" y2="535.4" stroke-width="4"/>
<line x1="518.9" y1="478.3" x2="132.5" y2="535.4" stroke-width="1"/>
<line x1="518.9" y1="478.3" x2="132.5" y2="535.4" stroke-width="1"/>
<line x1="497.4" y1="475.2" x2="201.9" y2="555.8" stroke-width="1"/>
<line x1="497.4" y1="475.2" x2="201.9" y2="555.8" stroke-width="2"/>
<line x1="497.4" y1="475.2" x2="201.9" y2="555.8" stroke-width="3"/>
<line x1="497.4" y1="475.2" x2="201.9" y2="555.8" stroke-width="4"/>
<line x1="518.9" y1="478.3" x2="201.9" y2="555.8" stroke-width="1"/>
<line x1="518.9" y1="478.3" x2="201.9" y2="555.8" stroke-width="1"/>
<line x1="497.4" y1="475.2" x2="295.2" y2="593.1" stroke-width="1"/>
<line x1="497.4" y1="475.2" x2="295.2" y2="593.1" stroke-width="2"/>
<line x1="497.4" y1="475.2" x2="295.2" y2="593.1" stroke-width="3"/>
<line x1="497.4" y1="475.2" x2="295.2" y2="593.1" stroke-width="4"/>
<line x1="518.9" y1="478.3" x2="295.2" y2="593.1" stroke-width="1"/>
<line x1="518.9" y1="478.3" x2="295.2" y2="593.1" stroke-width="2"/>
<line x1="518.9" y1="478.3" x2="295.2" y2="593.1" stroke-width="3"/>
<line x1="518.9" y1="478.3" x2="295.2" y2="593.1" stroke-width="4"/>
<line x1="497.4" y1="475.2" x2="161.7" y2="623.3" stroke-width="1"/>
<line x1="497.4" y1="475.2" x2="161.7" y2="623.3" stroke-width="2"/>
<line x1="497.4" y1="475.2" x2="161.7" y2="623.3" stroke-width="3"/>
<line x1="497.4" y1="475.2" x2="161.7" y2="623.3" stroke-width="4"/>
<line x1="518.9" y1="478.3" x2="161.7" y2="623.3" stroke-width="1"/>
<line x1="518.9" y1="478.3" x2="161.7" y2="623.3" stroke-width="2"/>
<line x1="518.9" y1="478.3" x2="161.7" y2="623.3" stroke-width="3"/>
<line x1="518.9" y1="478.3" x2="161.7" y2="623.3" stroke-width="4"/>
<line x1="497.4" y1="475.2" x2="126" y2="672.1" stroke-width="1"/>
<line x1="497.4" y1="475.2" x2="126" y2="672.1" stroke-width="2"/>
<line x1="497.4" y1="475.2" x2="126" y2="672.1" stroke-width="3"/>
<line x1="497.4" y1="475.2" x2="126" y2="672.1" stroke-width="4"/>
<line x1="497.4" y1="475.2" x2="260.6" y2="681" stroke-width="1"/>
<line x1="497.4" y1="475.2" x2="260.6" y2="681" stroke-width="2"/>
<line x1="497.4" y1="475.2" x2="260.6" y2="681" stroke-width="3"/>
<line x1="497.4" y1="475.2" x2="260.6" y2="681" stroke-width="4"/>
<line x1="518.9" y1="478.3" x2="260.6" y2="681" stroke-width="1"/>
<line x1="518.9" y1="478.3" x2="260.6" y2="681" stroke-width="1"/>
<line x1="497.4" y1="475.2" x2="856.5" y2="359.7" stroke-width="1"/>
<line x1="497.4" y1="475.2" x2="856.5" y2="359.7" stroke-width="2"/>
<line x1="497.4" y1="475.2" x2="856.5" y2="359.7" stroke-width="3"/>
<line x1="497.4" y1="475.2" x2="856.5" y2="359.7" stroke-width="4"/>
<line x1="518.9" y1="478.3" x2="856.5" y2="359.7" stroke-width="1"/>
<line x1="518.9" y1="478.3" x2="856.5" y2="359.7" stroke-width="2"/>
<line x1="518.9" y1="478.3" x2="856.5" y2="359.7" stroke-width="3"/>
<line x1="518.9" y1="478.3" x2="856.5" y2="359.7" stroke-width="4"/>
<line x1="497.4" y1="475.2" x2="799.7" y2="406.2" stroke-width="1"/>
<line x1="497.4" y1="475.2" x2="799.7" y2="406.2" stroke-width="2"/>
<line x1="497.4" y1="475.2" x2="799.7" y2="406.2" stroke-width="3"/>
<line x1="497.4" y1="475.2" x2="799.7" y2="406.2" stroke-width="4"/>
<line x1="518.9" y1="478.3" x2="799.7" y2="406.2" stroke-width="1"/>
<line x1="518.9" y1="478.3" x2="799.7" y2="406.2" stroke-width="2"/>
<line x1="518.9" y1="478.3" x2="799.7" y2="406.2" stroke-width="3"/>
<line x1="518.9" y1="478.3" x2="799.7" y2="406.2" stroke-width="4"/>
<line x1="497.4" y1="475.2" x2="898.2" y2="410.3" stroke-width="1"/>
<line x1="497.4" y1="475.2" x2="898.2" y2="410.3" stroke-width="2"/>
<line x1="497.4" y1="475.2" x2="898.2" y2="410.3" stroke-width="3"/>
<line x1="497.4" y1="475.2" x2="898.2" y2="410.3" stroke-width="4"/>
<line x1="518.9" y1="478.3" x2="898.2" y2="410.3" stroke-width="1"/>
<line x1="518.9" y1="478.3" x2="898.2" y2="410.3" stroke-width="1"/>
<line x1="497.4" y1="475.2" x2="677.1" y2="447.3" stroke-width="1"/>
<line x1="497.4" y1="475.2" x2="677.1" y2="447.3" stroke-width="2"/>
<line x1="497.4" y1="475.2" x2="677.1" y2="447.3" stroke-width="3"/>
<line x1="497.4" y1="475.2" x2="677.1" y2="447.3" stroke-width="4"/>
<line x1="518.9" y1="478.3" x2="677.1" y2="447.3" stroke-width="1"/>
<line x1="518.9" y1="478.3" x2="677.1" y2="447.3" stroke-width="2"/>
<line x1="518.9" y1="478.3" x2="677.1" y2="447.3" stroke-width="3"/>
<line x1="518.9" y1="478.3" x2="677.1" y2="447.3" stroke-width="4"/>
<line x1="497.4" y1="475.2" x2="873.7" y2="471" stroke-width="1"/>
<line x1="497.4" y1="475.2" x2="873.7" y2="471" stroke-width="2"/>
<line x1="497.4" y1="475.2" x2="873.7" y2="471" stroke-width="3"/>
<line x1="497.4" y1="475.2" x2="873.7" y2="471" stroke-width="4"/>
<line x1="518.9" y1="478.3" x2="873.7" y2="471" stroke-width="1"/>
<line x1="518.9" y1="478.3" x2="873.7" y2="471" stroke-width="2"/>
<line x1="518.9" y1="478.3" x2="873.7" y2="471" stroke-width="3"/>
<line x1="518.9" y1="478.3" x2="873.7" y2="471" stroke-width="4"/>
<line x1="497.4" y1="475.2" x2="717.1" y2="508.8" stroke-width="1"/>
<line x1="497.4" y1="475.2" x2="717.1" y2="508.8" stroke-width="2"/>
<line x1="497.4" y1="475.2" x2="717.1" y2="508.8" stroke-width="3"/>
<line x1="497.4" y1="475.2" x2="717.1" y2="508.8" stroke-width="4"/>
<line x1="518.9" y1="478.3" x2="717.1" y2="508.8" stroke-width="1"/>
<line x1="518.9" y1="478.3" x2="717.1" y2="508.8" stroke-width="2"/>
<line x1="518.9" y1="478.3" x2="717.1" y2="508.8" stroke-width="3"/>
<line x1="518.9" y1="478.3" x2="717.1" y2="508.8" stroke-width="4"/>
<line x1="497.4" y1="475.2" x2="824.5" y2="508.3" stroke-width="1"/>
<line x1="497.4" y1="475.2" x2="824.5" y2="508.3" stroke-width="2"/>
<line x1="497.4" y1="475.2" x2="824.5" y2="508.3" stroke-width="3"/>
<line x1="497.4" y1="475.2" x2="824.5" y2="508.3" stroke-width="4"/>
<line x1="518.9" y1="478.3" x2="824.5" y2="508.3" stroke-width="1"/>
<line x1="518.9" y1="478.3" x2="824.5" y2="508.3" stroke-width="2"/>
<line x1="518.9" y1="478.3" x2="824.5" y2="508.3" stroke-width="3"/>
<line x1="518.9" y1="478.3" x2="824.5" y2="508.3" stroke-width="4"/>
<line x1="497.4" y1="475.2" x2="776.1" y2="534.4" stroke-width="1"/>
<line x1="497.4" y1="475.2" x2="776.1" y2="534.4" stroke-width="2"/>
<line x1="497.4" y1="475.2" x2="776.1" y2="534.4" stroke-width="3"/>
<line x1="497.4" y1="475.2" x2="776.1" y2="534.4" stroke-width="4"/>
<line x1="518.9" y1="478.3" x2="776.1" y2="534.4" stroke-width="1"/>
<line x1="518.9" y1="478.3" x2="776.1" y2="534.4" stroke-width="2"/>
<line x1="518.9" y1="478.3" x2="776.1" y2="534.4" stroke-width="3"/>
<line x1="518.9" y1="478.3" x2="776.1" y2="534.4" stroke-width="4"/>
<line x1="497.4" y1="475.2" x2="905" y2="525.7" stroke-width="1"/>
<line x1="497.4" y1="475.2" x2="905" y2="525.7" stroke-width="2"/>
<line x1="497.4" y1="475.2" x2="905" y2="525.7" stroke-width="3"/>
<line x1="497.4" y1="475.2" x2="905" y2="525.7" stroke-width="4"/>
<line x1="497.4" y1="475.2" x2="876.2" y2="591.7" stroke-width="1"/>
<line x1="497.4" y1="475.2" x2="876.2" y2="591.7" stroke-width="2"/>
<line x1="497.4" y1="475.2" x2="876.2" y2="591.7" stroke-width="3"/>
<line x1="497.4" y1="475.2" x2="876.2" y2="591.7" stroke-width="4"/>
<line x1="518.9" y1="478.3" x2="876.2" y2="591.7" stroke-width="1"/>
<line x1="518.9" y1="478.3" x2="876.2" y2="591.7" stroke-width="1"/>
<line x1="497.4" y1="475.2" x2="791.3" y2="612.2" stroke-width="1"/>
<line x1="497.4" y1="475.2" x2="791.3" y2="612.2" stroke-width="2"/>
<line x1="497.4" y1="475.2" x2="791.3" y2="612.2" stroke-width="3"/>
<line x1="497.4" y1="475.2" x2="791.3" y2="612.2" stroke-width="4"/>
<line x1="518.9" y1="478.3" x2="791.3" y2="612.2" stroke-width="1"/>
<line x1="518.9" y1="478.3" x2="791.3" y2="612.2" stroke-width="1"/>
</g>
<g>
<circle cx="297.7" cy="183.5" r="10.2" fill="#5088FF"/>
<circle cx="362.9" cy="205.9" r="10.2" fill="#19B02D"/>
<circle cx="261.3" cy="230.5" r="10.2" fill="#5088FF"/>
<circle cx="205.5" cy="245.8" r="10.2" fill="#EE44DD"/>
<circle cx="170.7" cy="290.4" r="10.2" fill="#EE44DD"/>
<circle cx="244.5" cy="294.9" r="10.2" fill="#5088FF"/>
<circle cx="301" cy="281.1" r="10.2" fill="#19B0B6"/>
<circle cx="378.7" cy="313.8" r="10.2" fill="#5088FF"/>
<circle cx="299.7" cy="332.5" r="10.2" fill="#EE44DD"/>
<circle cx="152.9" cy="339.2" r="10.2" fill="#19B0B6"/>
<circle cx="191.6" cy="379.3" r="10.2" fill="#EE44DD"/>
<circle cx="253.8" cy="382.2" r="10.2" fill="#19B0B6"/>
<circle cx="317.8" cy="401.7" r="10.2" fill="#5088FF"/>
<circle cx="637.5" cy="115.6" r="10.2" fill="#EE44DD"/>
<circle cx="585.6" cy="166.3" r="10.2" fill="#EE44DD"/>
<circle cx="693.5" cy="155" r="10.2" fill="#19B02D"/>
<circle cx="735.3" cy="196.2" r="10.2" fill="#EE44DD"/>
<circle cx="524.3" cy="247.8" r="10.2" fill="#F35E5A"/>
<circle cx="594.2" cy="286.2" r="10.2" fill="#F35E5A"/>
<circle cx="660.2" cy="312.6" r="10.2" fill="#F35E5A"/>
<circle cx="524.1" cy="351.5" r="10.2" fill="#F35E5A"/>
<circle cx="612.4" cy="357.5" r="10.2" fill="#F35E5A"/>
<circle cx="497.4" cy="475.2" r="10.2" fill="#F35E5A"/>
<circle cx="518.9" cy="478.3" r="10.2" fill="#F35E5A"/>
<circle cx="856.5" cy="359.7" r="10.2" fill="#19B0B6"/>
<circle cx="799.7" cy="406.2" r="10.2" fill="#19B0B6"/>
<circle cx="898.2" cy="410.3" r="10.2" fill="#19B02D"/>
<circle cx="677.1" cy="447.3" r="10.2" fill="#19B0B6"/>
<circle cx="873.7" cy="471" r="10.2" fill="#19B0B6"/>
<circle cx="717.1" cy="508.8" r="10.2" fill="#19B0B6"/>
<circle cx="824.5" cy="508.3" r="10.2" fill="#19B0B6"/>
<circle cx="776.1" cy="534.4" r="10.2" fill="#19B0B6"/>
<circle cx="905" cy="525.7" r="10.2" fill="#19B0B6"/>
<circle cx="876.2" cy="591.7" r="10.2" fill="#19B02D"/>
<circle cx="791.3" cy="612.2" r="10.2" fill="#19B0B6"/>
<circle cx="428.1" cy="703.5" r="10.2" fill="#EE44DD"/>
<circle cx="491.2" cy="692.3" r="10.2" fill="#AA8C00"/>
<circle cx="588.1" cy="682.3" r="10.2" fill="#AA8C00"/>
<circle cx="680.8" cy="717.7" r="10.2" fill="#19B02D"/>
<circle cx="549.8" cy="736.5" r="10.2" fill="#AA8C00"/>
<circle cx="610.2" cy="765.4" r="10.2" fill="#EE44DD"/>
<circle cx="402.7" cy="768.5" r="10.2" fill="#AA8C00"/>
<circle cx="466.5" cy="775.6" r="10.2" fill="#AA8C00"/>
<circle cx="534.4" cy="787.3" r="10.2" fill="#AA8C00"/>
<circle cx="675.4" cy="790.2" r="10.2" fill="#AA8C00"/>
<circle cx="585.2" cy="822.1" r="10.2" fill="#EE44DD"/>
<circle cx="430" cy="827.1" r="10.2" fill="#AA8C00"/>
<circle cx="516.2" cy="836.7" r="10.2" fill="#AA8C00"/>
<circle cx="132.5" cy="535.4" r="10.2" fill="#AA8C00"/>
<circle cx="201.9" cy="555.8" r="10.2" fill="#AA8C00"/>
<circle cx="295.2" cy="593.1" r="10.2" fill="#19B0B6"/>
<circle cx="161.7" cy="623.3" r="10.2" fill="#AA8C00"/>
<circle cx="126" cy="672.1" r="10.2" fill="#EE44DD"/>
<circle cx="260.6" cy="681" r="10.2" fill="#AA8C00"/>
</g>
<g>
<text transform="translate(988,175.9) scale(0.82,1)" font-size="29.33">Weight</text>
<rect x="992.3" y="216.15" width="36.9" height="1.5" fill="#000" fill-opacity="0.2"/>
<text transform="translate(1048.3,225.6) scale(0.828,1)" font-size="23.47">2.5</text>
<rect x="992.3" y="258.70" width="36.9" height="8.4" fill="#000" fill-opacity="0.2"/>
<text transform="translate(1048.3,271.59999999999997) scale(0.828,1)" font-size="23.47">5.0</text>
<rect x="992.3" y="301.95" width="36.9" height="13.9" fill="#000" fill-opacity="0.2"/>
<text transform="translate(1048.3,317.59999999999997) scale(0.828,1)" font-size="23.47">7.5</text>
<rect x="992.3" y="344.55" width="36.9" height="20.7" fill="#000" fill-opacity="0.2"/>
<text transform="translate(1048.3,363.59999999999997) scale(0.828,1)" font-size="23.47">10.0</text>
<rect x="992.3" y="387.40" width="36.9" height="27" fill="#000" fill-opacity="0.2"/>
<text transform="translate(1048.3,409.59999999999997) scale(0.828,1)" font-size="23.47">12.5</text>
<text transform="translate(987,506.8) scale(0.82,1)" font-size="29.33">Department</text>
<circle cx="1010.8" cy="547.4" r="10.2" fill="#F35E5A"/>
<text transform="translate(1048.6,556.0) scale(0.828,1)" font-size="23.47">Administration</text>
<circle cx="1010.8" cy="593.4" r="10.2" fill="#AA8C00"/>
<text transform="translate(1048.6,602.0) scale(0.828,1)" font-size="23.47">Engineering</text>
<circle cx="1010.8" cy="639.4" r="10.2" fill="#19B02D"/>
<text transform="translate(1048.6,648.0) scale(0.828,1)" font-size="23.47">Executive</text>
<circle cx="1010.8" cy="685.4" r="10.2" fill="#19B0B6"/>
<text transform="translate(1048.6,694.0) scale(0.828,1)" font-size="23.47">Facilities</text>
<circle cx="1010.8" cy="731.4" r="10.2" fill="#5088FF"/>
<text transform="translate(1048.6,740.0) scale(0.828,1)" font-size="23.47">Information Technology</text>
<circle cx="1010.8" cy="777.4" r="10.2" fill="#EE44DD"/>
<text transform="translate(1048.6,786.0) scale(0.828,1)" font-size="23.47">Security</text>
</g>
</svg></body></html>
